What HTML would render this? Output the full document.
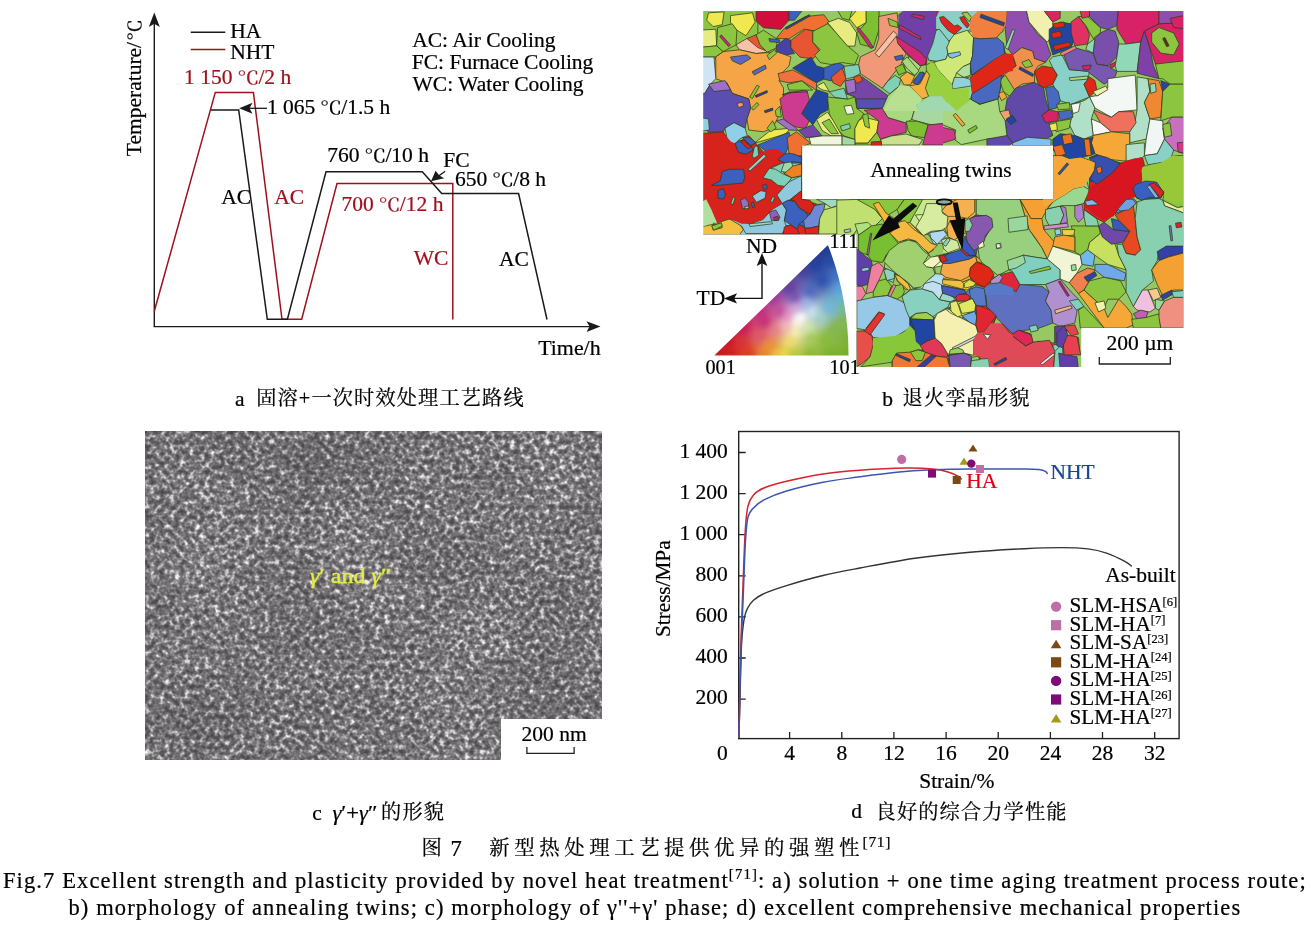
<!DOCTYPE html>
<html lang="zh">
<head>
<meta charset="utf-8">
<title>Fig.7 Excellent strength and plasticity provided by novel heat treatment</title>
<style>
html,body{margin:0;padding:0;background:#fff;}
body{width:1311px;height:934px;overflow:hidden;position:relative;}
svg{display:block;position:absolute;left:0;top:0;}
svg text{font-family:"Liberation Serif","Noto Serif CJK SC",serif;white-space:pre;}
</style>
</head>
<body>
<svg width="1311" height="934" viewBox="0 0 1311 934">
<rect width="1311" height="934" fill="#fff"/>
<g id="panel-a"><path d="M154.3,326.6 V20" stroke="#1a1a1a" stroke-width="1.4" fill="none"/>
<path d="M153.6,326.6 H592" stroke="#1a1a1a" stroke-width="1.4" fill="none"/>
<path d="M154.3,12.5 L159.8,27 L154.3,23.8 L148.8,27 Z" fill="#1a1a1a"/>
<path d="M600.5,326.6 L586.5,321.3 L589.5,326.6 L586.5,331.9 Z" fill="#1a1a1a"/>
<path d="M190.7,32.2 H225.3" stroke="#1a1a1a" stroke-width="1.5"/>
<path d="M190.7,49.6 H225.3" stroke="#a0101c" stroke-width="1.5"/>
<text x="230.2" y="37.6" font-size="21.5" fill="#000" text-anchor="start" stroke="#000" stroke-width="0.22">HA</text>
<text x="230.2" y="58.8" font-size="21.5" fill="#000" text-anchor="start" stroke="#000" stroke-width="0.22">NHT</text>
<path d="M154.3,311.3 L215.3,92.4 H253.4 L282,319.3 H301.7 L337,183.5 H452.8 V319.5" stroke="#a0101c" stroke-width="1.5" fill="none" stroke-linejoin="miter"/>
<path d="M210.8,110 H238.7 L267.3,319.3 H287.4 L326,171.7 H422.3 L441.7,193.5 H518.6 L547,319.5" stroke="#1a1a1a" stroke-width="1.5" fill="none" stroke-linejoin="miter"/>
<text x="184.0" y="84" font-size="21.5" fill="#a0101c" stroke="#a0101c" stroke-width="0.22">1 150 </text><text transform="translate(237.2,84) scale(1.3,1)" font-size="17.0" fill="#a0101c" stroke="#a0101c" stroke-width="0.22">℃</text><text x="258.4" y="84" font-size="21.5" fill="#a0101c" stroke="#a0101c" stroke-width="0.22">/2 h</text>
<text x="266.9" y="114" font-size="21.5" fill="#000" stroke="#000" stroke-width="0.22">1 065 </text><text transform="translate(320.0,114) scale(1.3,1)" font-size="17.0" fill="#000" stroke="#000" stroke-width="0.22">℃</text><text x="341.2" y="114" font-size="21.5" fill="#000" stroke="#000" stroke-width="0.22">/1.5 h</text>
<path d="M248,108.3 H267" stroke="#1a1a1a" stroke-width="1.3"/>
<path d="M239.2,108.3 L252.5,102.8 L249.5,108.3 L252.5,113.8 Z" fill="#1a1a1a"/>
<text x="412.2" y="47.2" font-size="21.5" fill="#000" text-anchor="start" stroke="#000" stroke-width="0.22">AC: Air Cooling</text>
<text x="411.8" y="69.2" font-size="21.5" fill="#000" text-anchor="start" stroke="#000" stroke-width="0.22">FC: Furnace Cooling</text>
<text x="412.5" y="90.6" font-size="21.5" fill="#000" text-anchor="start" stroke="#000" stroke-width="0.22">WC: Water Cooling</text>
<text x="327.2" y="161.5" font-size="21.5" fill="#000" stroke="#000" stroke-width="0.22">760 </text><text transform="translate(364.2,161.5) scale(1.3,1)" font-size="17.0" fill="#000" stroke="#000" stroke-width="0.22">℃</text><text x="385.4" y="161.5" font-size="21.5" fill="#000" stroke="#000" stroke-width="0.22">/10 h</text>
<text x="341.6" y="211" font-size="21.5" fill="#a0101c" stroke="#a0101c" stroke-width="0.22">700 </text><text transform="translate(378.6,211) scale(1.3,1)" font-size="17.0" fill="#a0101c" stroke="#a0101c" stroke-width="0.22">℃</text><text x="399.8" y="211" font-size="21.5" fill="#a0101c" stroke="#a0101c" stroke-width="0.22">/12 h</text>
<text x="455.0" y="185.8" font-size="21.5" fill="#000" stroke="#000" stroke-width="0.22">650 </text><text transform="translate(492.0,185.8) scale(1.3,1)" font-size="17.0" fill="#000" stroke="#000" stroke-width="0.22">℃</text><text x="513.2" y="185.8" font-size="21.5" fill="#000" stroke="#000" stroke-width="0.22">/8 h</text>
<text x="443.2" y="166.6" font-size="21.5" fill="#000" text-anchor="start" stroke="#000" stroke-width="0.22">FC</text>
<path d="M445.2,171.2 L439,175.8" stroke="#1a1a1a" stroke-width="1.3"/>
<path d="M431,181.3 L435.6,170.8 L439.3,175.5 L444.2,178.3 Z" fill="#1a1a1a"/>
<text x="221.2" y="204" font-size="21.5" fill="#000" text-anchor="start" stroke="#000" stroke-width="0.22">AC</text>
<text x="274.2" y="204" font-size="21.5" fill="#a0101c" text-anchor="start" stroke="#a0101c" stroke-width="0.22">AC</text>
<text x="413.8" y="264.6" font-size="21.5" fill="#a0101c" text-anchor="start" stroke="#a0101c" stroke-width="0.22">WC</text>
<text x="499.0" y="265.8" font-size="21.5" fill="#000" text-anchor="start" stroke="#000" stroke-width="0.22">AC</text>
<text x="538.2" y="354.7" font-size="21.9" fill="#000" text-anchor="start" stroke="#000" stroke-width="0.22">Time/h</text>
<g transform="translate(140.6,155.4) rotate(-90)"><text x="-0.8" y="0" font-size="21.5" fill="#000" stroke="#000" stroke-width="0.22">Temperature/</text><text transform="translate(114.4,0) scale(1.3,1)" font-size="17.0" fill="#000" stroke="#000" stroke-width="0.22">℃</text></g>
<text x="235.0" y="405.6" font-size="21.5" fill="#000" text-anchor="start" stroke="#000" stroke-width="0.22">a</text>
<text x="256.2" y="404.6" font-size="20.2" letter-spacing="1.15" fill="#000" stroke="#000" stroke-width="0.22">固溶+一次时效处理工艺路线</text></g>
<g id="panel-b"><clipPath id="ebsdclip"><rect x="703.2" y="11" width="480.6" height="355.9"/></clipPath>
<filter id="ebsdsoft" x="-2%" y="-2%" width="104%" height="104%"><feGaussianBlur stdDeviation="0.45"/></filter>
<g clip-path="url(#ebsdclip)"><g filter="url(#ebsdsoft)">
<rect x="703" y="11" width="481" height="356" fill="#96c864"/>
<clipPath id="c_ebsd_A"><rect x="703" y="11" width="240.00" height="170.98"/></clipPath>
<g clip-path="url(#c_ebsd_A)" stroke="#2f3c1a" stroke-width="0.75" stroke-linejoin="round">
<polygon points="697.5,5.5 757.9,5.5 757.9,58.6 697.5,58.6" fill="#8cc63f"/>
<polygon points="708.5,12.8 724.1,11.9 722.2,24.7 713.1,26.6 706.7,20.2" fill="#f0e850"/>
<polygon points="730.5,15.6 752.4,12.8 755.2,22.0 746.0,35.7 736.9,30.2 730.5,22.9" fill="#f0e850"/>
<polygon points="697.5,30.2 715.8,29.3 716.7,45.8 697.5,47.6" fill="#e8ec80"/>
<polygon points="714.0,46.7 719.5,44.9 720.4,47.6 714.9,50.4" fill="#d02878"/>
<polygon points="756.1,5.5 789.0,5.5 789.0,20.2 780.8,29.3 763.4,27.8 756.1,21.1" fill="#d0103c"/>
<polygon points="789.0,5.5 806.4,5.5 794.5,20.2 789.0,20.2" fill="#3a60c0"/>
<polygon points="736.0,44.9 746.9,38.5 757.9,36.6 759.8,44.9 767.1,52.2 756.1,53.5 739.6,49.8" fill="#f8c0a8"/>
<polygon points="746.9,38.5 756.1,34.8 761.6,44.0 765.2,50.4 757.9,47.6" fill="#e85530"/>
<polygon points="756.1,34.8 763.4,30.2 776.2,38.5 777.1,47.6 767.1,52.2 760.1,44.9" fill="#8cc63f"/>
<polygon points="768.9,38.5 779.9,39.9 779.5,42.5 769.8,41.8" fill="#3a60c0"/>
<polygon points="776.2,38.5 783.5,29.3 805.5,16.5 823.8,14.7 829.3,22.0 820.2,31.5 803.7,29.3 789.0,38.8" fill="#f07030"/>
<polygon points="785.4,27.5 809.2,14.7 810.1,16.1 786.3,29.3" fill="#2444a4"/>
<polygon points="776.2,45.8 785.4,38.5 790.9,40.3 790.9,47.6 794.5,53.5 783.5,55.3 776.2,51.6" fill="#4a40a8"/>
<polygon points="790.9,40.3 805.5,29.3 812.8,31.1 812.8,42.1 820.2,51.6 812.8,59.0 800.0,57.1 790.9,47.6" fill="#e85530"/>
<polygon points="715.8,56.8 723.1,51.6 739.6,49.8 756.1,53.5 767.1,52.7 776.2,51.6 790.9,56.8 789.0,65.9 783.5,71.4 779.0,80.6 783.5,87.9 783.5,97.0 779.9,113.5 772.6,128.2 763.4,131.8 748.8,130.0 746.9,119.0 750.6,108.0 748.8,98.9 732.3,93.4 726.8,82.8 715.8,78.7" fill="#f5a545"/>
<polygon points="730.5,57.1 746.9,54.9 751.0,58.2 740.5,64.5 732.3,60.8" fill="#5a68c4"/>
<polygon points="752.1,71.8 765.2,65.0 766.3,68.5 754.3,75.1" fill="#5a68c4"/>
<polygon points="767.1,55.3 774.8,49.4 776.6,53.1 769.3,59.7" fill="#8cc63f"/>
<polygon points="749.7,97.0 757.0,85.1 759.4,86.4 752.4,98.5" fill="#8cc63f"/>
<polygon points="751.5,108.0 757.0,102.5 758.8,104.7 753.3,110.2" fill="#8cc63f"/>
<polygon points="755.2,95.6 767.1,90.6 767.4,92.5 756.1,97.4" fill="#2444a4"/>
<polygon points="764.3,110.8 772.6,108.0 772.9,110.2 765.2,112.8" fill="#2444a4"/>
<polygon points="775.3,110.8 779.9,106.2 781.4,117.2 776.2,116.3" fill="#8cc63f"/>
<polygon points="697.5,56.8 714.0,56.8 715.8,78.7 710.3,84.2 704.8,93.4 697.5,93.4" fill="#cfe5f5"/>
<polygon points="704.8,93.4 710.3,84.2 726.8,82.8 732.3,93.4 748.8,98.9 750.6,108.0 746.9,119.0 745.1,128.2 734.1,122.7 725.0,128.2 723.1,132.2 708.5,132.2 697.5,120.8 697.5,97.0" fill="#5a50b0"/>
<polygon points="708.5,84.2 725.0,80.6 730.5,89.7 714.0,91.5" fill="#a070c8"/>
<polygon points="736.9,103.4 742.4,102.2 743.6,105.8 738.7,107.7" fill="#f09878"/>
<polygon points="697.5,117.2 708.5,119.0 709.4,130.0 697.5,131.8" fill="#8fd0e8"/>
<polygon points="697.5,133.7 723.1,131.8 732.3,146.5 748.8,135.5 763.4,152.0 783.5,150.1 783.5,162.9 765.2,172.1 745.1,172.1 745.1,187.5 697.5,187.5" fill="#d8201c"/>
<polygon points="725.0,128.2 734.1,122.7 745.1,128.2 747.3,135.5 739.6,139.1 732.3,146.5 726.8,137.3" fill="#8fd0e8"/>
<polygon points="734.1,143.7 741.4,141.9 747.9,150.1 742.4,155.6 736.9,152.0" fill="#3a60c0"/>
<polygon points="742.4,137.3 749.7,137.3 756.1,142.8 750.6,145.6" fill="#3a60c0"/>
<polygon points="721.3,173.9 728.6,169.9 745.1,169.9 745.1,187.5 721.3,187.5" fill="#3a60c0"/>
<polygon points="754.3,143.2 771.1,130.0 790.9,128.2 785.4,134.0 767.1,139.5" fill="#f0e850"/>
<polygon points="767.1,128.2 772.6,120.8 776.2,128.2 770.7,131.8" fill="#8cc63f"/>
<polygon points="757.9,145.0 789.0,132.2 791.2,139.1 785.4,154.2 767.1,152.3" fill="#3a60c0"/>
<polygon points="752.4,150.1 757.9,146.5 759.8,155.6 754.3,157.5" fill="#80d0b8"/>
<polygon points="787.2,137.7 796.4,131.8 811.0,143.2 801.9,146.8 801.9,157.5 789.0,154.2" fill="#f07030"/>
<polygon points="752.1,168.8 765.2,154.2 767.4,157.5 756.5,172.5" fill="#80d0b8"/>
<polygon points="746.9,172.1 765.2,172.1 767.1,187.5 746.9,187.5" fill="#d8201c"/>
<polygon points="765.2,170.6 781.7,163.3 801.9,161.5 801.9,187.5 765.2,187.5" fill="#80d0b8"/>
<polygon points="783.5,172.1 801.9,162.9 801.9,175.8 789.0,177.6" fill="#f07030"/>
<polygon points="783.5,157.5 801.9,155.6 801.9,162.9 785.4,163.3" fill="#3a60c0"/>
<polygon points="776.2,120.8 783.5,119.0 794.5,126.7 798.2,130.4 789.0,130.0" fill="#a070c8"/>
<polygon points="779.9,98.9 789.0,91.9 807.3,91.5 809.5,100.7 801.9,113.5 805.5,117.2 809.2,120.8 805.5,128.5 794.5,126.7 783.5,119.0" fill="#cc3a90"/>
<polygon points="782.1,94.8 805.5,89.7 807.7,91.9 789.0,92.6" fill="#9050b0"/>
<polygon points="801.9,113.5 809.2,100.7 816.5,89.7 827.9,93.4 827.9,109.9 820.2,113.9 812.8,124.9 809.2,120.8" fill="#2444a4"/>
<polygon points="798.2,130.4 812.8,124.9 822.0,135.9 805.5,137.7" fill="#7444a8"/>
<polygon points="792.7,68.1 811.0,57.1 816.5,65.9 823.8,68.1 823.8,79.1 816.5,82.8" fill="#2444a4"/>
<polygon points="823.8,68.1 838.5,62.6 844.3,65.9 840.3,75.1 831.1,80.9 823.8,79.1" fill="#3a60c0"/>
<polygon points="831.1,77.3 842.1,68.1 846.2,78.7 840.3,86.4 833.0,82.8" fill="#e85530"/>
<polygon points="778.1,73.6 792.7,69.9 816.5,82.8 816.5,90.1 801.9,80.9 789.0,82.8 779.9,80.9" fill="#f07040"/>
<polygon points="787.2,84.6 801.9,80.9 812.8,90.1 789.0,90.1" fill="#8cc63f"/>
<polygon points="816.5,86.1 823.8,82.4 829.3,91.5 822.0,89.7" fill="#e8ec80"/>
<polygon points="812.8,31.5 827.5,23.8 836.6,33.0 847.6,45.8 858.6,55.3 854.9,64.5 842.1,62.6 831.1,64.5 820.2,62.6 814.7,55.3 820.2,49.8 812.8,42.1" fill="#8cc63f"/>
<polygon points="827.5,22.4 838.5,18.3 849.5,22.4 856.8,33.0 854.9,46.1 847.6,46.1 836.6,33.3" fill="#e8ec80"/>
<polygon points="834.8,5.5 853.1,5.5 849.5,20.2 842.1,18.3" fill="#8cc63f"/>
<polygon points="849.5,18.7 860.8,5.5 866.3,5.5 866.3,22.4 856.8,27.8" fill="#f0e850"/>
<polygon points="865.9,5.5 879.1,5.5 879.1,29.3 873.3,47.6 860.4,44.3 856.8,33.0 866.3,22.4" fill="#7dc030"/>
<polygon points="858.6,27.5 867.8,38.5 873.3,47.6 870.5,48.5 856.8,29.3" fill="#d02878"/>
<polygon points="860.4,56.8 875.1,49.8 878.7,38.5 878.7,16.5 897.1,12.8 898.9,29.3 898.9,44.0 906.2,53.5 900.7,64.5 887.9,80.9 882.4,88.3 860.4,73.6 858.6,64.5" fill="#f09878"/>
<polygon points="875.1,53.5 893.4,31.1 897.4,34.8 879.1,57.1" fill="#f8c0a8"/>
<polygon points="887.9,18.3 897.1,22.0 898.0,27.5 889.7,25.6" fill="#8cc63f"/>
<polygon points="894.3,56.8 902.5,54.9 903.5,59.0 896.1,60.4" fill="#3a60c0"/>
<polygon points="898.9,14.7 911.7,5.5 935.5,5.5 935.5,29.3 928.2,49.8 919.0,44.3 900.7,31.5" fill="#7444a8"/>
<polygon points="913.5,14.7 928.5,20.2 926.7,23.8 912.1,18.3" fill="#d02878"/>
<polygon points="900.7,29.3 922.7,38.5 920.8,42.5 899.8,33.9" fill="#d02878"/>
<polygon points="897.1,36.6 928.2,49.8 926.3,64.5 917.2,66.3 906.2,53.5 898.9,44.3" fill="#d02878"/>
<polygon points="902.5,44.0 926.3,54.9 925.4,57.7 901.6,46.7" fill="#7444a8"/>
<polygon points="928.2,49.8 935.5,29.3 948.5,33.0 948.5,60.8 930.0,60.8" fill="#80d0b8"/>
<polygon points="935.5,5.5 948.5,5.5 948.5,18.3 936.4,16.5" fill="#d02878"/>
<polygon points="935.5,18.3 948.5,20.2 948.5,33.0 935.5,29.3" fill="#80d0b8"/>
<polygon points="902.5,60.8 909.9,56.8 920.8,66.3 915.4,75.4 906.2,71.8" fill="#a8d880"/>
<polygon points="895.2,67.8 902.5,64.1 906.2,71.8 898.9,75.1" fill="#7dc030"/>
<polygon points="926.3,64.5 933.7,62.3 948.5,71.4 948.5,87.9 931.8,84.6 926.3,75.4" fill="#8cc63f"/>
<polygon points="933.7,62.3 948.5,62.3 948.5,71.4" fill="#e8ec80"/>
<polygon points="900.7,77.3 909.9,73.2 915.4,80.9 922.7,73.2 930.0,79.1 926.3,84.6 928.2,95.6 920.8,99.2 909.9,86.4 904.4,84.6" fill="#f5b040"/>
<polygon points="913.5,80.9 922.7,71.8 926.7,75.4 917.6,84.6" fill="#3a60c0"/>
<polygon points="882.4,88.3 887.9,80.9 895.2,75.4 900.7,79.1 898.9,86.4 889.7,93.7" fill="#80d0b8"/>
<polygon points="845.8,80.9 854.9,79.1 862.3,76.9 887.9,95.6 882.4,108.4 856.8,108.4 854.9,97.0 845.8,93.7" fill="#7444a8"/>
<polygon points="844.9,80.9 854.9,79.1 855.9,91.5 847.6,93.7" fill="#a070c8"/>
<polygon points="855.9,98.9 886.1,98.9 884.2,108.4 856.8,108.4" fill="#5a50b0"/>
<polygon points="853.1,77.3 860.4,75.1 862.6,80.6 856.8,83.5" fill="#f05020"/>
<polygon points="844.0,66.3 858.6,64.5 860.4,73.6 853.1,77.3 845.8,79.1" fill="#80d0b8"/>
<polygon points="829.3,91.9 844.0,88.3 845.8,93.7 847.6,99.2 834.8,97.4" fill="#80d0b8"/>
<polygon points="827.5,97.0 847.6,99.2 854.9,97.0 856.8,108.4 864.1,113.9 858.6,120.8 854.9,128.5 854.9,139.5 844.0,135.9 836.6,128.5 829.3,113.9" fill="#8cc63f"/>
<polygon points="844.0,106.2 851.3,105.3 854.0,113.5 846.7,114.4" fill="#f0f5e0"/>
<polygon points="840.3,126.3 849.5,123.6 850.4,128.2 842.1,130.9" fill="#80d0b8"/>
<polygon points="816.5,119.4 827.5,112.1 833.3,120.8 842.1,135.9 831.1,135.9 822.0,130.4" fill="#e8ec80"/>
<polygon points="822.0,122.7 829.3,119.0 838.5,133.7 831.1,133.7" fill="#8cc63f"/>
<polygon points="854.9,128.5 858.6,120.8 864.1,117.2 878.7,120.8 876.9,132.2 867.8,143.2 854.9,143.2" fill="#f0e850"/>
<polygon points="862.3,115.3 867.8,113.5 869.6,128.2 865.0,126.3" fill="#8cc63f"/>
<polygon points="864.1,110.2 882.4,108.4 887.9,117.5 906.2,123.0 906.2,132.2 891.6,135.9 878.7,139.5 876.9,132.2 878.7,120.8" fill="#cc3a90"/>
<polygon points="882.4,108.4 887.9,95.6 898.9,86.4 909.9,86.4 920.8,99.2 915.4,106.6 911.7,119.4 906.2,123.0 887.9,117.5" fill="#a8d880"/>
<polygon points="911.7,119.4 915.4,106.6 928.2,100.7 948.5,102.5 948.5,123.0 931.8,124.9 917.2,121.2" fill="#a6d8a0"/>
<polygon points="930.0,93.7 948.5,91.5 948.5,102.5 928.2,100.7" fill="#8fd0e8"/>
<polygon points="906.2,121.2 917.2,121.2 928.2,124.9 924.5,137.7 911.7,135.9 908.0,130.4" fill="#7dc030"/>
<polygon points="924.5,137.7 928.2,124.9 948.5,123.0 948.5,145.0 922.7,145.0" fill="#cc3a90"/>
<polygon points="880.6,139.5 891.6,135.9 906.2,134.0 911.7,135.9 922.7,139.5 919.0,145.0 880.6,145.0" fill="#c8e090"/>
<polygon points="867.8,143.2 876.9,132.2 880.6,139.5 880.6,145.0 854.9,145.0 854.9,143.2" fill="#8cc63f"/>
<polygon points="871.4,141.9 881.5,141.3 881.5,145.6 871.4,145.6" fill="#d8201c"/>
<polygon points="809.2,137.7 822.0,135.9 842.1,135.9 842.1,145.0 811.0,145.0" fill="#f0f5e0"/>
<polygon points="842.1,135.9 854.9,139.5 854.9,145.0 842.1,145.0" fill="#a6d8a0"/>
<polygon points="697.5,47.6 716.7,45.8 723.1,51.6 715.8,56.8 697.5,56.8" fill="#8cc63f"/>
<polygon points="717.6,27.5 732.3,23.8 736.9,30.2 736.0,44.9 723.1,51.6 716.7,45.8" fill="#8cc63f"/>
<polygon points="721.3,34.8 730.5,44.9 728.6,46.7 719.8,36.6" fill="#d02878"/>
<polygon points="928.2,84.2 948.5,87.9 948.5,91.5 930.0,93.7 928.2,95.6" fill="#8cc63f"/>
</g>
<clipPath id="c_ebsd_B"><rect x="943" y="11" width="240.00" height="170.98"/></clipPath>
<g clip-path="url(#c_ebsd_B)" stroke="#2f3c1a" stroke-width="0.75" stroke-linejoin="round">
<polygon points="937.5,5.5 970.5,5.5 970.5,29.3 961.3,34.8 948.5,40.3 937.5,42.1" fill="#88d0c8"/>
<polygon points="937.5,18.3 954.0,27.5 952.2,31.1 937.5,23.8" fill="#e02818"/>
<polygon points="959.5,18.3 968.6,25.6 966.8,28.4 958.6,22.0" fill="#e02818"/>
<polygon points="946.7,42.1 961.3,34.8 972.3,31.1 974.1,40.3 970.5,71.4 952.2,87.9 937.5,78.7 937.5,56.8 948.5,51.3" fill="#c8e070"/>
<polygon points="946.7,53.1 960.4,52.2 959.5,56.8 947.6,59.0" fill="#80c0f0"/>
<polygon points="970.5,18.3 979.6,14.7 1007.1,5.5 1008.9,20.2 1003.4,29.3 996.1,38.5 976.0,38.5 970.5,29.3" fill="#f08040"/>
<polygon points="977.8,12.8 1005.2,23.8 1003.4,27.5 976.9,16.5" fill="#2444a4"/>
<polygon points="992.4,33.0 1001.6,28.4 1003.4,31.1 995.2,36.6" fill="#8cc63f"/>
<polygon points="1007.1,5.5 1025.4,5.5 1029.0,22.0 1038.2,34.8 1045.5,40.3 1051.0,54.9 1045.5,62.3 1034.5,58.6 1032.7,51.3 1021.7,47.6 1012.6,54.9 1007.1,47.6 1005.2,29.3" fill="#9050b0"/>
<polygon points="1005.2,47.6 1012.6,29.3 1014.8,30.2 1008.0,49.4" fill="#90d8b8"/>
<polygon points="1025.4,5.5 1040.0,5.5 1052.8,22.0 1052.8,34.8 1047.3,42.1 1040.0,34.8 1029.0,22.0" fill="#f0f0b0"/>
<polygon points="1040.0,5.5 1060.2,5.5 1060.2,18.3 1052.8,22.0" fill="#e02060"/>
<polygon points="974.1,40.3 996.1,38.5 1003.4,44.0 1005.2,53.1 996.1,58.6 972.3,75.1 970.5,71.4" fill="#4868c0"/>
<polygon points="970.5,76.9 997.9,58.6 1005.2,53.1 1012.6,56.8 1016.2,65.9 1012.6,69.6 1003.4,73.2 972.3,93.4" fill="#e02818"/>
<polygon points="972.3,93.4 1003.4,73.2 1001.6,84.2 997.9,98.9 979.6,104.4 972.3,100.7" fill="#4868c0"/>
<polygon points="1012.6,54.9 1021.7,47.6 1032.7,51.3 1034.5,58.6 1045.5,62.3 1038.2,65.9 1034.5,71.4 1034.5,82.4 1021.7,84.2 1014.4,89.7 1005.2,84.2 1003.4,75.1 1016.2,65.9" fill="#f09050"/>
<polygon points="1021.7,62.3 1029.0,59.5 1032.7,65.9 1025.4,67.8" fill="#8cc63f"/>
<polygon points="1019.9,66.8 1033.6,74.2 1032.7,76.5 1019.0,69.2" fill="#2444a4"/>
<polygon points="1034.5,71.4 1041.9,65.9 1052.8,67.8 1057.4,75.1 1052.8,84.2 1043.7,87.9 1038.2,84.2" fill="#e02818"/>
<polygon points="999.8,80.6 1005.2,75.1 1014.4,89.7 1010.7,97.0 1003.4,91.5" fill="#8cc63f"/>
<polygon points="997.9,93.4 1003.4,91.5 1007.1,97.0 1001.6,100.7" fill="#f5a838"/>
<polygon points="1007.1,98.9 1016.2,87.9 1034.5,82.4 1043.7,87.9 1045.5,98.9 1049.2,109.9 1041.9,115.3 1049.2,122.7 1052.8,135.5 1045.5,139.1 1027.2,137.3 1012.6,142.8 1007.1,137.3 1005.2,120.8 1010.7,113.5 1005.2,109.9" fill="#6048a8"/>
<polygon points="999.8,111.7 1008.9,109.9 1010.7,117.2 1005.2,120.8 999.8,119.0" fill="#f5a070"/>
<polygon points="1006.2,119.0 1012.6,115.3 1016.2,120.8 1010.7,124.5" fill="#2444a4"/>
<polygon points="937.5,102.5 970.5,98.9 979.6,104.4 997.9,98.9 999.8,111.7 1005.2,120.8 1007.1,137.3 986.9,139.1 961.3,144.6 954.0,139.1 955.8,130.0 937.5,122.7" fill="#a8d880"/>
<polygon points="953.1,115.3 955.8,113.5 965.0,124.5 962.2,126.3" fill="#f5a838"/>
<polygon points="967.7,130.0 976.0,125.4 977.4,128.2 969.5,133.3" fill="#7dc030"/>
<polygon points="937.5,126.3 954.0,130.0 955.8,139.1 937.5,144.6" fill="#d03888"/>
<polygon points="986.9,139.1 1007.1,135.5 1012.6,142.8 1008.9,145.6 986.9,145.6" fill="#6048a8"/>
<polygon points="1012.6,142.8 1027.2,137.3 1051.0,139.1 1051.0,145.6 1012.6,145.6" fill="#80c0f0"/>
<polygon points="952.2,80.6 970.5,76.9 972.3,93.4 970.5,98.9 954.0,100.7" fill="#90d8b8"/>
<polygon points="937.5,78.7 952.2,87.9 954.0,100.7 937.5,102.5" fill="#8cc63f"/>
<polygon points="1052.8,56.8 1062.0,54.9 1069.3,69.6 1089.5,71.4 1087.6,80.6 1084.0,84.2 1089.5,97.0 1071.1,104.4 1060.2,100.7 1056.5,91.5 1052.8,84.2 1057.4,75.1 1052.8,67.8 1049.2,60.4" fill="#88d0c8"/>
<polygon points="1069.3,77.8 1087.6,76.0 1088.0,79.1 1070.2,80.6" fill="#a8d880"/>
<polygon points="1045.5,87.9 1052.8,86.1 1058.3,91.5 1060.2,100.7 1056.5,108.0 1049.2,109.9" fill="#4868c0"/>
<polygon points="1049.2,29.3 1060.2,22.0 1071.1,23.8 1074.8,38.5 1071.1,47.6 1052.8,54.9 1049.2,42.1" fill="#2444a4"/>
<polygon points="1051.0,33.0 1060.2,31.1 1062.0,36.6 1052.8,38.5" fill="#e02818"/>
<polygon points="1052.8,45.8 1069.3,42.1 1071.1,45.8 1054.7,50.4" fill="#e02818"/>
<polygon points="1052.8,23.8 1063.8,22.0 1064.7,26.6 1054.7,28.4" fill="#e02818"/>
<polygon points="1071.1,22.0 1078.5,16.5 1085.8,25.6 1089.5,34.8 1087.6,44.0 1074.8,45.8 1071.1,33.0" fill="#e03060"/>
<polygon points="1078.5,16.5 1087.6,16.5 1100.4,27.5 1100.4,33.0 1093.1,38.5 1085.8,25.6" fill="#8cc63f"/>
<polygon points="1078.5,5.5 1089.5,5.5 1089.5,16.5 1082.1,18.3" fill="#e03060"/>
<polygon points="1089.5,5.5 1118.7,5.5 1116.9,25.6 1107.8,29.3 1100.4,27.5 1089.5,16.5" fill="#7a50ac"/>
<polygon points="1118.7,5.5 1159.0,5.5 1159.0,23.8 1144.4,31.1 1140.7,42.1 1126.1,44.0 1116.9,29.3 1116.9,25.6" fill="#d82068"/>
<polygon points="1094.9,38.5 1100.4,33.0 1107.8,29.3 1115.1,31.1 1118.7,42.1 1116.9,56.8 1107.8,65.9 1096.8,64.1 1093.1,53.1" fill="#7a50ac"/>
<polygon points="1063.8,54.9 1074.8,47.6 1093.1,53.1 1096.8,64.1 1107.8,65.9 1116.9,71.4 1115.1,76.9 1104.1,84.2 1096.8,78.7 1087.6,71.4 1069.3,69.6" fill="#7858b0"/>
<polygon points="1060.2,53.1 1074.8,45.8 1076.6,48.5 1062.0,55.9" fill="#f08090"/>
<polygon points="1082.1,65.9 1091.3,65.0 1089.5,69.6 1084.0,69.9" fill="#d82068"/>
<polygon points="1109.6,65.0 1118.7,60.1 1120.6,62.6 1111.4,68.1" fill="#d82068"/>
<polygon points="1087.6,44.0 1094.9,38.5 1093.1,53.1 1085.8,49.4" fill="#90d8b8"/>
<polygon points="1116.9,56.8 1118.7,44.0 1126.1,44.0 1140.7,42.1 1137.1,71.4 1116.9,71.4 1115.1,65.9" fill="#90d8b8"/>
<polygon points="1140.7,42.1 1144.4,31.1 1149.9,47.6 1153.5,65.9 1159.0,78.7 1137.1,73.2" fill="#8040a8"/>
<polygon points="1144.4,31.1 1159.0,23.8 1188.5,22.0 1188.5,62.3 1155.4,64.1 1149.9,47.6" fill="#d82068"/>
<polygon points="1151.7,33.0 1159.0,27.5 1173.7,33.0 1179.2,44.0 1173.7,54.9 1160.8,53.1 1151.7,42.1" fill="#8cc63f"/>
<polygon points="1162.7,38.5 1164.9,37.5 1169.1,45.8 1166.7,46.7" fill="#5a3010"/>
<polygon points="1159.0,5.5 1188.5,5.5 1188.5,22.0 1159.0,23.8" fill="#9050b0"/>
<polygon points="1170.0,18.3 1188.5,14.7 1188.5,29.3 1173.7,27.5" fill="#d82068"/>
<polygon points="1155.4,64.1 1188.5,60.4 1188.5,84.2 1170.0,84.2 1162.7,78.7 1159.0,78.7" fill="#8cc63f"/>
<polygon points="1107.8,78.7 1135.2,75.1 1137.1,109.9 1118.7,111.7 1111.4,117.2 1094.9,108.0 1089.5,97.0 1098.6,95.2 1107.8,87.9" fill="#f4f8f4"/>
<polygon points="1084.0,84.2 1089.5,76.9 1094.9,80.6 1096.8,89.7 1089.5,97.0" fill="#e02818"/>
<polygon points="1093.1,91.5 1105.9,86.1 1107.8,89.7 1096.8,96.1" fill="#f0f0b0"/>
<polygon points="1137.1,76.9 1148.0,78.7 1149.9,91.5 1144.4,102.5 1149.9,119.0 1146.2,139.1 1129.7,142.8 1129.7,131.8 1135.2,120.8 1137.1,109.9" fill="#b0e0c8"/>
<polygon points="1148.0,78.7 1159.0,80.6 1162.7,91.5 1160.8,117.2 1149.9,119.0 1144.4,102.5 1149.9,91.5" fill="#f08830"/>
<polygon points="1149.9,84.2 1155.4,83.3 1156.3,91.5 1150.8,93.4" fill="#90d8b8"/>
<polygon points="1160.8,80.6 1170.0,84.2 1166.3,97.0 1162.7,91.5" fill="#3040a0"/>
<polygon points="1162.7,91.5 1170.0,84.2 1188.5,84.2 1188.5,117.2 1171.8,117.2 1160.8,120.8" fill="#8cc63f"/>
<polygon points="1149.9,119.0 1162.7,120.8 1164.5,139.1 1157.2,153.8 1144.4,155.6 1146.2,139.1" fill="#f0f5f5"/>
<polygon points="1171.8,117.2 1188.5,117.2 1188.5,155.6 1173.7,150.1 1164.5,139.1 1162.7,128.2" fill="#c870c0"/>
<polygon points="1162.7,124.5 1170.0,122.7 1171.8,135.5 1164.5,137.3" fill="#8cc63f"/>
<polygon points="1177.3,142.8 1188.5,141.9 1188.5,153.8 1178.2,152.0" fill="#d03888"/>
<polygon points="1093.1,109.9 1111.4,117.2 1118.7,111.7 1133.4,111.7 1136.1,122.7 1129.7,131.8 1111.4,131.8 1100.4,122.7" fill="#f07060"/>
<polygon points="1091.3,119.0 1100.4,122.7 1111.4,131.8 1093.1,135.5" fill="#f8f8f8"/>
<polygon points="1071.1,104.4 1084.0,100.7 1089.5,97.0 1094.9,108.0 1091.3,119.0 1093.1,135.5 1084.0,139.1 1074.8,135.5 1069.3,124.5 1073.0,113.5" fill="#b0e0c8"/>
<polygon points="1071.1,104.4 1080.3,102.5 1078.5,111.7 1073.0,113.5" fill="#f4f8f4"/>
<polygon points="1058.3,111.7 1071.1,109.9 1073.0,117.2 1060.2,120.8" fill="#4868c0"/>
<polygon points="1041.9,115.3 1049.2,109.9 1058.3,111.7 1058.3,120.8 1045.5,122.7" fill="#d82068"/>
<polygon points="1049.2,122.7 1060.2,120.8 1071.1,119.0 1069.3,128.2 1056.5,131.8" fill="#8cc63f"/>
<polygon points="1049.2,124.5 1056.5,122.7 1057.4,130.0 1051.0,130.9" fill="#f0e850"/>
<polygon points="1056.5,104.4 1069.3,102.5 1070.2,108.9 1058.3,109.9" fill="#8cc63f"/>
<polygon points="1093.1,135.5 1111.4,131.8 1129.7,133.7 1129.7,142.8 1126.1,161.1 1107.8,159.3 1094.9,153.8 1091.3,142.8" fill="#f5a838"/>
<polygon points="1052.8,139.1 1060.2,133.7 1074.8,135.5 1084.0,139.1 1093.1,137.3 1091.3,142.8 1094.9,153.8 1082.1,157.5 1071.1,159.3 1062.0,155.6 1052.8,150.1" fill="#2444a4"/>
<polygon points="1052.8,146.5 1062.0,144.6 1065.7,153.8 1056.5,157.5" fill="#f07020"/>
<polygon points="1062.0,135.5 1071.1,133.7 1073.0,142.8 1063.8,144.6" fill="#f07020"/>
<polygon points="1084.0,139.1 1089.5,139.1 1091.3,155.6 1085.8,155.6" fill="#f07020"/>
<polygon points="1052.8,155.6 1062.0,155.6 1071.1,159.3 1082.1,157.5 1096.8,162.9 1089.5,175.8 1082.1,187.5 1052.8,187.5" fill="#f5a838"/>
<polygon points="1056.5,175.8 1067.5,162.9 1069.3,164.8 1059.2,178.0" fill="#2444a4"/>
<polygon points="1089.5,157.5 1096.8,154.7 1107.8,159.3 1120.6,162.9 1115.1,173.9 1104.1,187.5 1089.5,187.5 1089.5,175.8 1096.8,162.9" fill="#2444a4"/>
<polygon points="1096.8,168.4 1101.4,166.6 1102.3,173.0 1097.7,174.3" fill="#f07020"/>
<polygon points="1104.1,187.5 1115.1,173.9 1120.6,162.9 1142.5,157.5 1144.4,164.8 1140.7,187.5" fill="#d8182c"/>
<polygon points="1126.1,144.6 1144.4,142.8 1144.4,155.6 1142.5,157.5 1126.1,161.1" fill="#b0e0c8"/>
<polygon points="1144.4,155.6 1157.2,153.8 1164.5,139.1 1173.7,150.1 1170.0,161.1 1148.0,164.8" fill="#88d0c8"/>
<polygon points="1142.5,166.6 1170.0,161.1 1173.7,155.6 1188.5,155.6 1188.5,187.5 1140.7,187.5" fill="#8cc63f"/>
</g>
<clipPath id="c_ebsd_C"><rect x="703" y="182" width="240.00" height="170.98"/></clipPath>
<g clip-path="url(#c_ebsd_C)" stroke="#2f3c1a" stroke-width="0.75" stroke-linejoin="round">
<polygon points="697.5,176.5 801.9,176.5 801.9,234.7 697.5,234.7" fill="#98c8e8"/>
<polygon points="697.5,176.5 801.9,176.5 801.9,199.4 790.9,202.1 781.7,198.5 772.6,209.5 763.4,218.6 748.8,222.3 739.6,224.1 730.5,218.6 719.5,222.3 710.3,215.0 697.5,200.3" fill="#d8201c"/>
<polygon points="776.2,194.8 790.9,185.7 801.9,183.8 801.9,193.0 785.4,202.1" fill="#98c8e8"/>
<polygon points="697.5,225.9 719.5,222.3 730.5,218.6 739.6,224.1 743.3,229.6 739.6,234.7 697.5,234.7" fill="#f5c040"/>
<polygon points="712.2,225.0 721.3,223.2 722.2,227.8 713.1,230.0" fill="#8cc63f"/>
<polygon points="754.3,193.0 765.2,189.3 768.9,196.6 761.6,202.1 754.3,200.3" fill="#98c8e8"/>
<polygon points="717.6,191.2 725.0,187.5 726.8,196.6 719.5,198.5" fill="#3860c0"/>
<polygon points="737.8,200.3 745.1,198.5 748.8,205.8 741.4,208.5" fill="#9060c0"/>
<polygon points="763.4,183.8 767.1,184.7 766.2,189.3 762.5,188.4" fill="#3860c0"/>
<polygon points="697.5,209.5 710.3,215.0 714.0,224.1 697.5,227.8" fill="#b0e080"/>
<polygon points="781.7,205.8 789.0,200.3 798.2,204.0 805.5,213.1 812.8,205.8 820.2,204.0 822.0,215.0 812.8,224.1 805.5,227.8 798.2,225.9 790.9,218.6 785.4,215.0" fill="#3860c0"/>
<polygon points="805.5,224.1 812.8,207.6 822.0,204.0 822.0,215.0 816.5,224.1" fill="#6080d0"/>
<polygon points="794.5,202.1 801.9,199.4 816.5,204.0 812.8,206.7 805.5,213.1 798.2,204.0" fill="#d8201c"/>
<polygon points="785.4,225.9 798.2,224.1 805.5,227.8 816.5,224.1 820.2,234.7 781.7,234.7" fill="#e02020"/>
<polygon points="768.9,211.3 776.2,211.3 778.1,220.4 770.7,220.4" fill="#9060c0"/>
<polygon points="746.9,223.2 772.6,221.4 773.5,225.0 748.8,226.9" fill="#90d0c8"/>
<polygon points="820.2,207.6 831.1,200.3 856.8,199.4 867.8,200.3 875.1,209.5 882.4,218.6 875.1,225.9 867.8,229.6 858.6,227.8 853.1,234.7 820.2,234.7 822.0,215.0" fill="#c0e070"/>
<polygon points="844.0,230.0 850.4,228.7 850.9,231.8 844.9,232.9" fill="#98c8e8"/>
<polygon points="856.8,199.4 886.1,199.4 904.4,199.4 897.1,209.5 882.4,218.6 875.1,209.5" fill="#8cc63f"/>
<polygon points="873.3,204.0 878.7,202.1 886.1,213.1 902.5,224.1 909.9,222.3 930.0,244.2 933.7,249.7 928.2,253.4 917.2,240.6 900.7,240.6 889.7,233.3 882.4,218.6" fill="#f5b838"/>
<polygon points="858.6,235.1 871.4,225.9 882.4,224.1 891.6,235.1 898.9,244.2 886.1,255.2 882.4,262.5 871.4,260.7 867.8,255.2 858.6,251.6" fill="#78c030"/>
<polygon points="854.9,224.1 867.8,222.3 871.4,225.9 858.6,235.1" fill="#b0e080"/>
<polygon points="866.8,254.3 870.5,233.3 871.8,233.4 868.7,254.9" fill="#a070a0"/>
<polygon points="886.1,255.2 898.9,244.2 909.9,240.6 919.0,242.4 928.2,253.4 933.7,262.5 935.5,273.5 922.7,284.5 913.5,288.2 904.4,279.0 895.2,273.5 884.2,268.0" fill="#98d070"/>
<polygon points="904.4,199.4 948.5,199.4 948.5,227.8 931.8,233.3 922.7,235.1 909.9,222.3 915.4,209.5" fill="#c8e890"/>
<polygon points="915.4,215.0 948.5,213.1 948.5,229.6 928.2,235.1" fill="#e0f0a0"/>
<polygon points="904.4,199.4 922.7,199.4 909.9,222.3 902.5,224.1 897.1,209.5" fill="#8cc63f"/>
<polygon points="928.2,233.3 948.5,229.6 948.5,242.4 933.7,244.2" fill="#b0d8f0"/>
<polygon points="924.5,262.5 937.3,255.2 948.5,258.9 941.0,266.2 928.2,268.0" fill="#f0f0b0"/>
<polygon points="939.2,255.2 948.5,254.3 948.5,262.5 940.1,261.6" fill="#e83030"/>
<polygon points="922.7,284.5 935.5,273.5 948.5,275.4 948.5,291.8 931.8,291.8" fill="#b0d8f0"/>
<polygon points="855.9,247.9 864.1,255.2 871.4,260.7 873.3,269.9 867.8,284.5 860.4,286.3 855.9,284.5" fill="#6040a8"/>
<polygon points="861.4,268.4 868.7,267.1 869.2,270.2 862.3,271.7" fill="#98c8e8"/>
<polygon points="871.4,266.2 878.7,262.5 884.2,268.0 878.7,280.9 873.3,291.8 865.9,293.7 867.8,284.5" fill="#f080a0"/>
<polygon points="855.9,286.3 862.3,286.3 865.9,293.7 860.4,301.0 855.9,301.0" fill="#f080a0"/>
<polygon points="878.7,280.9 886.1,279.0 891.6,286.3 887.9,295.5 873.3,297.3 873.3,291.8" fill="#8cc63f"/>
<polygon points="884.2,268.0 895.2,273.5 893.4,282.7 886.1,279.0" fill="#90d0c8"/>
<polygon points="895.2,273.5 904.4,279.0 909.9,288.2 906.2,290.0 897.1,280.9" fill="#f5b838"/>
<polygon points="856.8,301.0 873.3,297.3 887.9,295.5 897.1,299.2 904.4,302.8 909.9,313.8 909.9,326.6 902.5,335.8 886.1,339.4 873.3,337.6 867.8,330.3 856.8,328.5" fill="#98c8e8"/>
<polygon points="902.5,295.5 913.5,288.2 922.7,290.0 931.8,291.8 948.5,293.7 948.5,315.6 933.7,317.5 909.9,313.8 904.4,302.8" fill="#90d0c8"/>
<polygon points="891.6,286.3 902.5,284.5 904.4,291.8 902.5,295.5 897.1,299.2 887.9,295.5" fill="#8cc63f"/>
<polygon points="887.9,295.5 893.4,284.5 896.1,285.4 890.6,296.4" fill="#f080a0"/>
<polygon points="865.9,328.5 878.7,312.0 884.2,313.8 871.4,332.1" fill="#e83030"/>
<polygon points="855.9,332.1 867.8,330.3 873.3,337.6 875.1,358.5 855.9,358.5" fill="#e85048"/>
<polygon points="909.9,317.5 933.7,317.5 935.5,337.6 922.7,346.8 915.4,337.6 909.9,326.6" fill="#2040a8"/>
<polygon points="915.4,312.9 926.3,312.0 927.3,317.5 916.3,317.8" fill="#8cc63f"/>
<polygon points="873.3,337.6 886.1,339.4 902.5,335.8 909.9,326.6 915.4,337.6 917.2,358.5 875.1,358.5" fill="#8cc63f"/>
<polygon points="933.7,317.5 948.5,315.6 948.5,339.4 935.5,337.6" fill="#f0f0c0"/>
<polygon points="922.7,346.8 935.5,337.6 948.5,339.4 948.5,358.5 920.8,358.5" fill="#e04060"/>
</g>
<clipPath id="c_ebsd_D"><rect x="943" y="182" width="240.00" height="170.98"/></clipPath>
<g clip-path="url(#c_ebsd_D)" stroke="#2f3c1a" stroke-width="0.75" stroke-linejoin="round">
<polygon points="1019.9,199.4 1052.8,199.4 1052.8,176.5 1071.1,176.5 1060.2,196.6 1049.2,205.8 1041.9,218.6 1030.9,218.6" fill="#f5a030"/>
<polygon points="1019.9,199.4 1030.9,218.6 1041.9,218.6 1043.7,229.6 1054.7,242.4 1052.8,255.2 1047.3,258.9 1041.9,247.9 1034.5,236.9 1029.0,229.6" fill="#f5a030"/>
<polygon points="976.0,199.4 1019.9,199.4 1029.0,229.6 1041.9,247.9 1047.3,258.9 1034.5,257.1 1023.5,255.2 1016.2,258.9 1008.9,269.9 997.9,275.4 988.8,268.0 979.6,260.7 977.8,246.1 983.3,240.6 990.6,225.9 988.8,216.8 976.0,215.0" fill="#98d080"/>
<polygon points="1008.0,218.6 1027.2,215.9 1028.1,229.6 1008.9,232.3" fill="#98d8a0"/>
<polygon points="996.1,244.2 1000.7,243.3 1001.2,247.9 996.6,248.8" fill="#f0f5d8"/>
<polygon points="937.5,199.4 976.0,199.4 976.0,215.0 970.5,218.6 965.0,233.3 948.5,236.9 937.5,215.0" fill="#f5b048"/>
<polygon points="970.5,218.6 976.0,215.0 988.8,216.8 992.4,225.9 983.3,240.6 977.8,246.1 970.5,247.9 966.8,235.1" fill="#8050b0"/>
<polygon points="937.5,215.0 948.5,236.9 965.0,233.3 966.8,235.1 970.5,247.9 961.3,251.6 937.5,255.2" fill="#c0e080"/>
<polygon points="937.5,236.9 952.2,238.8 950.3,247.9 937.5,249.7" fill="#80d0c0"/>
<polygon points="937.5,255.2 961.3,251.6 970.5,247.9 977.8,246.1 976.0,255.2 961.3,258.9 946.7,262.5 937.5,264.4" fill="#3858c0"/>
<polygon points="937.5,264.4 961.3,258.9 976.0,255.2 979.6,260.7 970.5,268.0 970.5,279.0 961.3,282.7 937.5,277.2" fill="#f5a838"/>
<polygon points="970.5,268.0 979.6,262.5 988.8,268.0 994.3,277.2 986.9,288.2 974.1,284.5 970.5,279.0" fill="#e03018"/>
<polygon points="937.5,279.0 961.3,282.7 970.5,279.0 976.0,284.5 966.8,290.0 937.5,286.3" fill="#f0e040"/>
<polygon points="937.5,284.5 965.0,290.0 963.1,292.8 937.5,290.0" fill="#3858c0"/>
<polygon points="937.5,290.0 966.8,291.8 970.5,288.2 985.1,288.2 986.9,306.5 976.0,308.3 968.6,299.2 955.8,301.0 937.5,299.2" fill="#5878c8"/>
<polygon points="955.8,295.5 966.8,293.7 970.5,299.2 959.5,301.0" fill="#e02838"/>
<polygon points="937.5,291.8 952.2,295.5 954.0,306.5 937.5,310.1" fill="#80d0c0"/>
<polygon points="950.3,308.3 955.8,301.0 968.6,299.2 976.0,308.3 974.1,313.8 961.3,315.6 954.0,313.8" fill="#e8e860"/>
<polygon points="961.3,315.6 974.1,312.0 977.8,324.8 968.6,323.0" fill="#70a8e8"/>
<polygon points="976.0,308.3 985.1,306.5 996.1,317.5 992.4,326.6 979.6,333.9 976.0,324.8" fill="#e02838"/>
<polygon points="937.5,310.1 950.3,308.3 954.0,313.8 961.3,315.6 968.6,323.0 977.8,324.8 979.6,333.9 976.0,341.3 954.0,346.8 950.3,358.5 937.5,358.5" fill="#f0f0a8"/>
<polygon points="985.1,288.2 994.3,284.5 1019.9,284.5 1041.9,286.3 1049.2,291.8 1045.5,301.0 1051.0,310.1 1052.8,323.0 1038.2,328.5 1025.4,330.3 1012.6,333.9 1003.4,324.8 996.1,317.5 986.9,306.5" fill="#6070c0"/>
<polygon points="997.9,275.4 1012.6,271.7 1019.9,284.5 1016.2,291.8 1007.1,286.3 999.8,282.7" fill="#e02838"/>
<polygon points="990.6,280.9 997.9,275.4 999.8,282.7 994.3,284.5" fill="#b090d0"/>
<polygon points="1008.9,269.9 1016.2,258.9 1023.5,255.2 1034.5,257.1 1047.3,258.9 1060.2,269.9 1060.2,279.0 1045.5,284.5 1023.5,284.5 1019.9,284.5 1012.6,271.7" fill="#80d0c0"/>
<polygon points="1029.0,271.7 1049.2,266.2 1051.0,269.0 1030.9,273.5" fill="#8cc63f"/>
<polygon points="1007.1,260.7 1023.5,255.2 1025.4,262.5 1016.2,268.0 1008.9,269.9" fill="#98d8a0"/>
<polygon points="1045.5,284.5 1060.2,279.0 1071.1,291.8 1078.5,299.2 1076.6,313.8 1074.8,323.0 1060.2,326.6 1052.8,323.0 1051.0,310.1 1045.5,301.0 1049.2,291.8" fill="#b090d0"/>
<polygon points="1060.2,280.9 1069.3,295.5 1067.5,296.4 1058.3,281.8" fill="#c02060"/>
<polygon points="1054.7,310.1 1071.1,305.6 1072.1,308.3 1055.6,313.8" fill="#f5b090"/>
<polygon points="1069.3,301.0 1078.5,299.2 1084.0,306.5 1076.6,310.1" fill="#80d0c0"/>
<polygon points="1052.8,246.1 1080.3,255.2 1082.1,264.4 1076.6,273.5 1069.3,282.7 1060.2,279.0 1060.2,269.9 1047.3,258.9" fill="#f0f5d8"/>
<polygon points="1071.1,265.3 1075.7,264.4 1076.3,269.9 1071.9,270.8" fill="#98d8a0"/>
<polygon points="1069.3,282.7 1076.6,273.5 1087.6,268.0 1094.9,269.9 1089.5,280.9 1084.0,290.0 1078.5,293.7" fill="#f08050"/>
<polygon points="1084.0,277.2 1094.9,271.7 1096.8,275.4 1087.6,281.8" fill="#3040a8"/>
<polygon points="1078.5,293.7 1084.0,290.0 1104.1,308.3 1107.8,317.5 1118.7,299.2 1126.1,306.5 1131.6,313.8 1133.4,324.8 1126.1,328.1 1104.1,328.1" fill="#f5a838"/>
<polygon points="1084.0,290.0 1089.5,280.9 1104.1,277.2 1120.6,280.9 1126.1,291.8 1118.7,299.2 1107.8,299.2 1104.1,308.3" fill="#8cc63f"/>
<polygon points="1078.5,310.1 1084.0,306.5 1104.1,328.1 1080.3,328.1" fill="#8cc63f"/>
<polygon points="1094.9,302.8 1104.1,301.0 1105.9,308.3 1098.6,312.0" fill="#f0f0b0"/>
<polygon points="1094.9,264.4 1107.8,264.4 1126.1,273.5 1124.2,280.9 1104.1,277.2 1094.9,269.9" fill="#70a8e8"/>
<polygon points="1080.3,255.2 1087.6,249.7 1094.9,255.2 1093.1,266.2 1082.1,264.4" fill="#70b8f0"/>
<polygon points="1089.5,242.4 1100.4,233.3 1107.8,238.8 1115.1,244.2 1118.7,255.2 1126.1,269.9 1107.8,264.4 1094.9,255.2 1087.6,249.7" fill="#c8e060"/>
<polygon points="1071.1,225.9 1098.6,225.9 1100.4,233.3 1089.5,242.4 1087.6,249.7 1080.3,255.2 1074.8,251.6 1074.8,236.9" fill="#8cc63f"/>
<polygon points="1045.5,209.5 1060.2,205.8 1063.8,215.0 1060.2,224.1 1049.2,225.9 1045.5,218.6" fill="#88d0b0"/>
<polygon points="1049.2,205.8 1060.2,196.6 1071.1,176.5 1085.8,176.5 1089.5,191.2 1084.0,202.1 1078.5,204.0 1071.1,202.1 1060.2,205.8" fill="#98d080"/>
<polygon points="1060.2,205.8 1065.7,207.6 1067.5,222.3 1060.2,224.1 1063.8,215.0" fill="#b080d0"/>
<polygon points="1074.8,205.8 1082.1,204.0 1084.0,216.8 1078.5,222.3 1074.8,216.8" fill="#b080d0"/>
<polygon points="1084.0,209.5 1096.8,218.6 1098.6,225.9 1085.8,225.9 1084.0,216.8" fill="#88d0b0"/>
<polygon points="1043.7,225.9 1067.5,223.2 1068.4,226.9 1044.6,229.6" fill="#d090d0"/>
<polygon points="1054.7,229.6 1060.2,228.7 1061.1,234.2 1055.6,235.1" fill="#90d0f0"/>
<polygon points="1062.0,229.6 1074.8,229.6 1073.9,235.1 1062.9,236.0" fill="#f0d040"/>
<polygon points="1054.7,236.9 1063.8,235.1 1074.8,236.9 1074.8,251.6 1052.8,246.1" fill="#f5a030"/>
<polygon points="1089.5,176.5 1137.1,176.5 1133.4,196.6 1126.1,200.3 1118.7,211.3 1113.3,215.0 1104.1,222.3 1096.8,218.6 1084.0,209.5 1084.0,202.1 1089.5,191.2" fill="#e02028"/>
<polygon points="1084.0,201.2 1094.9,199.4 1098.6,204.9 1087.6,205.8" fill="#70a8e8"/>
<polygon points="1133.4,176.5 1159.0,176.5 1164.5,193.0 1159.0,198.5 1144.4,199.4 1137.1,198.5 1133.4,191.2" fill="#3858c0"/>
<polygon points="1149.9,183.8 1160.8,187.5 1164.5,193.0 1160.8,196.6 1151.7,189.3" fill="#e02028"/>
<polygon points="1159.0,176.5 1188.5,176.5 1188.5,205.8 1177.3,207.6 1162.7,200.3 1164.5,193.0" fill="#8cc63f"/>
<polygon points="1162.7,200.3 1177.3,207.6 1188.5,205.8 1188.5,215.0 1179.2,211.3 1164.5,205.8" fill="#e8f0a0"/>
<polygon points="1115.1,213.1 1126.1,200.3 1133.4,198.5 1137.1,202.1 1133.4,205.8 1122.4,211.3" fill="#6090e0"/>
<polygon points="1115.1,215.0 1122.4,211.3 1133.4,205.8 1135.2,218.6 1137.1,236.9 1140.7,249.7 1135.2,255.2 1126.1,253.4 1122.4,244.2 1129.7,231.4 1118.7,220.4" fill="#e84820"/>
<polygon points="1098.6,225.9 1104.1,222.3 1113.3,229.6 1129.7,231.4 1122.4,242.4 1111.4,244.2 1102.3,236.9" fill="#7048a8"/>
<polygon points="1111.4,218.6 1118.7,220.4 1129.7,231.4 1113.3,229.6" fill="#3858c0"/>
<polygon points="1137.1,202.1 1144.4,199.4 1159.0,198.5 1162.7,200.3 1164.5,205.8 1179.2,211.3 1188.5,215.0 1188.5,246.1 1171.8,247.9 1159.0,251.6 1157.2,260.7 1151.7,269.9 1153.5,280.9 1142.5,290.0 1133.4,306.5 1126.1,291.8 1126.1,269.9 1118.7,255.2 1116.9,244.2 1122.4,244.2 1126.1,253.4 1135.2,255.2 1140.7,249.7 1137.1,236.9 1135.2,218.6" fill="#88d0b0"/>
<polygon points="1175.5,223.2 1181.0,222.3 1181.9,226.9 1176.4,227.8" fill="#e02028"/>
<polygon points="1169.1,225.9 1170.9,225.6 1172.7,240.6 1170.9,240.9" fill="#7878c0"/>
<polygon points="1157.2,251.6 1166.3,246.1 1188.5,246.1 1188.5,251.6 1168.2,257.1 1159.0,260.7" fill="#3040a8"/>
<polygon points="1151.7,269.9 1159.0,260.7 1168.2,257.1 1188.5,251.6 1188.5,290.0 1173.7,290.0 1162.7,295.5 1157.2,284.5" fill="#f5a030"/>
<polygon points="1160.8,295.5 1171.8,290.0 1173.7,293.7 1162.7,300.1" fill="#3040a8"/>
<polygon points="1133.4,306.5 1142.5,290.0 1148.0,290.0 1155.4,308.3 1149.9,312.0 1137.1,310.1" fill="#f0c0e0"/>
<polygon points="1148.0,290.0 1157.2,288.2 1160.8,297.3 1153.5,301.0" fill="#f8c890"/>
<polygon points="1133.4,313.8 1140.7,310.1 1148.0,312.0 1146.2,317.5 1137.1,319.3" fill="#c060b0"/>
<polygon points="1131.6,319.3 1146.2,317.5 1159.0,313.8 1160.8,328.1 1133.4,328.1" fill="#8cc63f"/>
<polygon points="1159.0,310.1 1164.5,301.0 1173.7,297.3 1188.5,297.3 1188.5,328.1 1160.8,328.1 1159.0,317.5" fill="#f09080"/>
<polygon points="1155.4,299.2 1164.5,301.0 1159.0,310.1 1155.4,308.3" fill="#98d8a0"/>
<polygon points="1171.8,291.8 1188.5,290.0 1188.5,297.3 1173.7,297.3" fill="#80d0c0"/>
<polygon points="976.0,341.3 979.6,333.9 992.4,326.6 1003.4,324.8 1012.6,333.9 1012.6,339.4 1025.4,346.8 1038.2,341.3 1052.8,358.5 950.3,358.5 954.0,346.8" fill="#e04858"/>
<polygon points="1012.6,333.9 1019.9,330.3 1030.9,333.9 1032.7,343.1 1025.4,346.8 1012.6,339.4" fill="#e02858"/>
<polygon points="1029.0,326.6 1036.4,324.8 1038.2,330.3 1030.9,332.1" fill="#80d0c0"/>
<polygon points="1054.7,326.6 1062.0,325.7 1067.5,330.3 1062.0,343.1 1054.7,343.1" fill="#6040a8"/>
<polygon points="1062.0,326.6 1074.8,324.8 1078.5,333.9 1071.1,335.8 1067.5,330.3" fill="#e84050"/>
<polygon points="1062.0,343.1 1067.5,335.8 1078.5,337.6 1080.3,358.5 1063.8,358.5" fill="#e84050"/>
<polygon points="1038.2,341.3 1054.7,343.1 1063.8,358.5 1052.8,358.5" fill="#e04858"/>
<polygon points="1052.8,344.9 1062.0,344.0 1062.9,358.5 1054.7,358.5" fill="#80d0c0"/>
<polygon points="954.0,346.8 979.6,333.9 981.4,336.7 955.8,349.5" fill="#d8d8e0"/>
</g>
<clipPath id="c_ebsd_E"><rect x="850" y="300" width="240.00" height="67.73"/></clipPath>
<g clip-path="url(#c_ebsd_E)" stroke="#2f3c1a" stroke-width="0.75" stroke-linejoin="round">
<polygon points="856.4,331.1 866.5,331.1 872.0,336.6 873.8,345.8 870.1,356.8 861.0,364.1 856.4,366.8" fill="#e85048"/>
<polygon points="873.8,342.1 895.8,336.6 910.4,327.5 915.9,336.6 917.7,347.6 910.4,353.1 895.8,353.1 892.1,362.2 861.0,366.8 870.1,356.8" fill="#8cc63f"/>
<polygon points="864.6,331.1 879.3,311.9 884.8,314.6 870.1,334.8" fill="#e83030"/>
<polygon points="892.1,362.2 895.8,353.1 910.4,353.1 923.2,358.6 930.5,354.9 948.9,358.6 948.9,373.2 892.1,373.2" fill="#f07830"/>
<polygon points="910.4,353.1 919.6,349.4 926.9,353.1 923.2,358.6" fill="#8cc63f"/>
<polygon points="915.9,366.8 932.4,354.9 936.0,356.8 921.4,366.8" fill="#3050b0"/>
<polygon points="897.6,353.1 914.1,364.1 912.2,365.9 895.8,354.9" fill="#2a3c98"/>
<polygon points="910.4,318.3 934.2,318.3 934.2,338.4 921.4,345.8 915.9,336.6" fill="#2040a8"/>
<polygon points="921.4,345.8 934.2,338.4 941.5,343.9 948.9,356.8 930.5,354.9" fill="#e03858"/>
<polygon points="934.2,318.3 948.9,309.2 961.7,318.3 976.3,325.6 978.1,334.8 976.3,353.1 967.2,354.9 948.9,353.1 941.5,343.9 934.2,338.4" fill="#f0f0b0"/>
<polygon points="948.9,349.4 959.8,347.6 961.7,353.1 949.8,354.6" fill="#8cc63f"/>
<polygon points="948.9,354.9 967.2,353.1 970.8,356.8 970.8,373.2 948.9,373.2" fill="#7858b0"/>
<polygon points="970.8,358.6 989.1,358.6 991.0,373.2 970.8,373.2" fill="#80d0b0"/>
<polygon points="976.3,334.8 989.1,333.0 1001.9,323.8 1011.1,334.8 1025.7,345.8 1033.1,342.1 1049.5,340.3 1055.0,351.3 1053.2,373.2 991.0,373.2 976.3,353.1" fill="#e04858"/>
<polygon points="952.5,348.5 978.1,334.8 979.2,337.0 953.6,350.9" fill="#d8d8e0"/>
<polygon points="994.6,363.2 1005.6,357.7 1007.1,360.0 996.1,365.5" fill="#3040a0"/>
<polygon points="948.9,309.2 956.2,301.8 974.5,301.8 976.3,307.3 961.7,318.3" fill="#e8e860"/>
<polygon points="961.7,318.3 976.3,312.8 978.1,323.8 976.3,325.6" fill="#70a8e8"/>
<polygon points="976.3,307.3 985.5,305.5 996.5,316.5 991.0,327.5 981.8,333.0 976.3,325.6" fill="#e02838"/>
<polygon points="1011.1,334.8 1018.4,330.2 1031.2,334.8 1033.1,342.1 1025.7,345.8" fill="#e02858"/>
<polygon points="1055.0,351.3 1062.4,343.9 1064.2,373.2 1053.2,373.2" fill="#80d0c0"/>
<polygon points="1058.7,353.1 1077.0,356.8 1078.8,373.2 1060.5,373.2" fill="#6040a8"/>
<polygon points="1062.4,334.8 1077.0,336.6 1080.7,354.9 1064.2,354.9" fill="#e84050"/>
<polygon points="1056.9,333.0 1064.2,325.6 1067.8,334.8 1062.4,347.6 1056.9,345.8" fill="#6040a8"/>
<polygon points="1040.4,363.2 1053.2,353.1 1054.7,354.9 1042.2,365.0" fill="#e8e0e8"/>
</g>
<g stroke="#2f3c1a" stroke-width="0.75" stroke-linejoin="round">
<polygon points="1064.4,194.9 1074.0,188.5 1083.7,186.4 1089.0,189.6 1088.0,193.9 1083.7,203.5 1075.1,205.6 1062.3,205.6 1047.3,208.8 1053.7,201.3" fill="#98d890"/>
<polygon points="1053.7,156.4 1065.5,159.6 1080.5,157.5 1095.4,162.8 1094.4,170.3 1088.0,179.9 1083.7,186.4 1074.0,188.5 1064.4,194.9 1053.7,201.3 1043.0,206.7 1043.0,199.2 1053.2,199.2" fill="#f5a838" stroke="none"/>
<polygon points="1058.0,173.5 1067.1,162.8 1068.7,164.4 1059.6,174.8" fill="#3850b0"/>
<polygon points="1088.0,193.9 1090.1,186.4 1102.9,179.9 1112.6,172.4 1121.1,162.8 1134.0,158.5 1141.5,157.5 1143.6,162.8 1141.5,170.3 1142.5,179.9 1136.1,184.2 1132.9,188.5 1136.1,197.1 1126.5,199.2 1117.9,208.8 1113.6,216.3 1102.9,220.0 1094.4,214.2 1083.7,205.6" fill="#d81820" stroke="none"/>
<polygon points="1089.0,158.5 1098.7,155.3 1107.2,157.5 1120.1,163.9 1112.6,172.4 1102.9,179.9 1096.5,184.2 1090.1,178.9 1094.4,170.3 1095.4,162.8" fill="#3850b0"/>
<polygon points="1096.5,167.6 1101.3,166.6 1101.9,172.4 1097.6,173.5" fill="#f07020"/>
<polygon points="1142.5,167.1 1150.0,165.0 1160.7,162.8 1173.6,155.3 1183.0,156.4 1183.0,201.3 1176.8,203.5 1163.9,199.2 1163.9,192.8 1156.5,182.1 1145.8,181.0 1142.5,179.9 1141.5,170.3" fill="#98c838" stroke="none"/>
<polygon points="1132.9,188.5 1136.1,184.2 1145.8,181.0 1156.5,182.1 1163.9,192.8 1160.7,198.1 1150.0,197.1 1141.5,200.3 1136.1,197.1" fill="#3860c0"/>
<polygon points="1149.0,184.2 1154.3,183.1 1163.9,191.7 1160.7,198.1" fill="#e02028"/>
<polygon points="1146.8,186.4 1150.0,185.3 1158.6,197.1 1155.4,198.1" fill="#80b0f0"/>
<polygon points="1117.9,208.8 1126.5,199.2 1132.9,199.2 1136.1,203.5 1128.6,209.9 1120.1,211.0" fill="#70a0e0"/>
<polygon points="1084.7,201.3 1092.2,199.7 1098.7,204.6 1086.9,205.6" fill="#80b8f0"/>
</g>
<g stroke="#2f3c1a" stroke-width="0.75" stroke-linejoin="round">
<polygon points="898.7,15.3 903.0,11.0 936.1,11.0 936.1,30.3 932.9,43.1 927.6,56.0 925.4,58.1 920.1,51.7 897.6,37.8 898.7,26.0" fill="#7040a8" stroke="none"/>
<polygon points="912.6,14.2 924.4,16.4 923.3,19.6 911.5,16.4" fill="#d02878"/>
<polygon points="899.8,24.9 920.1,36.7 921.2,39.9 898.7,28.1" fill="#d02878"/>
<polygon points="896.5,36.7 920.1,51.7 926.5,59.2 925.4,64.5 920.1,65.6 907.3,53.8 897.6,43.1" fill="#d02878"/>
<polygon points="936.1,17.4 939.4,11.0 977.9,11.0 971.5,17.4 969.3,27.1 967.2,30.3 961.8,28.1 954.3,34.5 950.1,39.9 947.9,39.9 939.4,29.2" fill="#88d0c8" stroke="none"/>
<polygon points="939.4,17.4 943.6,16.4 954.3,26.0 957.6,24.9 961.8,28.1 954.3,34.5 947.9,30.3 941.5,22.8" fill="#e02020"/>
<polygon points="959.7,17.4 964.0,16.4 969.3,24.9 967.2,28.1 961.8,21.7" fill="#e02020"/>
<polygon points="961.8,13.1 967.2,12.1 971.5,17.4 969.3,21.7" fill="#a0d040"/>
<polygon points="927.6,56.0 932.9,43.1 936.1,30.3 939.4,29.2 947.9,39.9 950.1,43.1 946.9,47.4 947.9,53.8 945.8,59.2 937.2,61.3 928.7,60.2" fill="#88d0c8"/>
<polygon points="950.1,39.9 954.3,34.5 967.2,30.3 973.6,37.8 972.5,56.0 970.4,63.4 962.9,66.7 956.5,73.1 952.2,84.9 946.9,79.5 937.2,68.8 934.0,62.4 937.2,61.3 945.8,59.2 947.9,53.8 946.9,47.4" fill="#d0e878"/>
<polygon points="947.9,53.8 959.7,51.7 960.8,54.9 952.2,58.1 949.0,57.0" fill="#80c0f0"/>
<polygon points="956.5,73.1 962.9,66.7 970.4,63.4 970.4,75.2 964.0,77.4" fill="#b0e0a0"/>
<polygon points="952.2,84.9 954.3,77.4 964.0,77.4 970.4,79.5 971.5,85.9 952.2,89.1" fill="#90d0d8"/>
<polygon points="926.5,66.7 930.8,62.4 934.0,62.4 937.2,68.8 946.9,79.5 952.2,84.9 952.2,89.1 969.3,88.1 969.3,100.9 960.8,107.3 956.5,111.0 947.9,103.0 941.5,96.6 928.7,96.6 925.4,88.1 929.7,75.2" fill="#98d040" stroke="none"/>
<polygon points="901.9,61.3 907.3,57.0 919.0,70.9 914.7,75.2 907.3,68.8" fill="#a8d878"/>
<polygon points="899.8,77.4 907.3,72.0 914.7,76.3 910.5,84.9 904.0,84.9" fill="#f5b040"/>
<polygon points="909.4,85.9 920.1,83.8 926.5,70.9 929.7,75.2 925.4,88.1 928.7,96.6 922.2,98.8 915.8,92.3" fill="#f5b040"/>
<polygon points="912.6,82.7 920.1,72.0 924.4,73.1 918.0,84.9" fill="#3858c0"/>
<polygon points="883.7,111.0 889.1,99.8 899.8,84.9 909.4,85.9 915.8,92.3 922.2,98.8 920.1,103.0 915.8,105.2 918.0,111.0" fill="#b8e090" stroke="none"/>
<polygon points="920.1,103.0 928.7,96.6 941.5,96.6 947.9,103.0 956.5,111.0 918.0,111.0 915.8,105.2" fill="#a0d8b0" stroke="none"/>
<polygon points="971.5,17.4 977.9,11.0 1006.8,11.0 1005.7,26.0 996.1,37.8 980.0,38.8 973.6,37.8 969.3,27.1" fill="#f08040" stroke="none"/>
<polygon points="981.1,14.2 1004.6,22.8 1003.6,26.0 980.0,17.4" fill="#2444a4"/>
<polygon points="973.6,37.8 980.0,38.8 997.2,37.8 1003.6,43.1 1004.6,53.8 995.0,59.2 971.5,75.2 970.4,63.4 972.5,56.0" fill="#4868c0"/>
<polygon points="970.4,77.4 995.0,59.2 1004.6,53.8 1013.0,53.8 1013.0,70.9 1006.8,72.0 972.5,94.5" fill="#e02818" stroke="none"/>
<polygon points="971.5,94.5 1001.4,75.2 1000.4,88.1 998.2,98.8 980.0,104.1 971.5,99.8" fill="#4868c0"/>
</g>
<g stroke="#2f3c1a" stroke-width="0.75" stroke-linejoin="round">
<polygon points="915.8,227.1 923.3,214.3 926.5,203.6 941.5,203.6 942.6,213.2 947.9,216.4 946.9,227.1 941.5,230.3 930.8,231.4 923.3,235.7" fill="#d8eca0"/>
<polygon points="941.5,211.1 947.9,203.6 957.6,199.3 974.7,199.3 974.7,212.1 967.2,218.5 962.9,217.5 954.3,216.4 947.9,216.4" fill="#f5b050"/>
<polygon points="946.9,227.1 950.1,220.7 957.6,237.8 954.3,240.0 947.9,236.7" fill="#f5b050"/>
<polygon points="969.3,218.5 975.8,216.4 986.5,215.3 991.8,218.5 992.9,227.1 985.4,235.7 984.3,241.0 977.9,248.5 973.6,250.7 967.2,242.1 966.1,235.7" fill="#8858b0"/>
<polygon points="965.0,220.7 969.3,218.5 972.5,225.0 969.3,231.4 965.0,231.4" fill="#88d0a8"/>
<polygon points="960.8,248.5 965.0,235.7 967.2,242.1 973.6,250.7 975.8,254.9 969.3,256.0 962.9,252.8" fill="#3858c0"/>
<polygon points="977.9,245.3 983.2,241.0 984.3,246.4 979.0,248.5" fill="#f0f0c0"/>
<polygon points="996.1,244.2 999.8,243.4 1000.6,247.4 996.9,248.3" fill="#f0f0f0"/>
<polygon points="890.1,233.5 899.8,221.8 905.1,220.7 913.7,229.3 923.3,235.7 930.8,243.2 937.2,245.3 932.9,249.6 928.7,252.8 923.3,248.5 915.8,241.0 908.3,238.9 898.7,242.1" fill="#f5b840"/>
<polygon points="883.7,261.4 889.1,250.7 898.7,243.2 908.3,240.0 915.8,242.1 923.3,250.7 928.7,254.9 923.3,263.5 926.5,266.7 932.9,267.8 935.1,274.2 928.7,279.6 921.2,287.0 913.7,288.1 908.3,282.8 899.8,276.3 894.4,272.1" fill="#a0d070"/>
<polygon points="929.7,232.5 937.2,231.4 943.6,230.3 946.9,234.6 941.5,240.0 937.2,244.2 930.8,237.8" fill="#b0d8f0"/>
<polygon points="941.5,240.0 947.9,237.8 957.6,241.0 959.7,248.5 947.9,252.8 943.6,248.5" fill="#d0e8a0"/>
<polygon points="942.6,244.2 947.9,237.8 950.1,240.0 945.8,246.4" fill="#90d0c0"/>
<polygon points="941.5,258.1 947.9,253.9 960.8,249.6 969.3,256.0 975.8,256.0 969.3,259.2 950.1,263.5 942.6,263.5" fill="#3860c0"/>
<polygon points="959.7,249.6 961.8,249.1 969.3,254.9 967.2,256.0" fill="#e02020"/>
<polygon points="939.4,256.0 943.6,254.9 947.9,260.3 941.5,262.4" fill="#e02020"/>
<polygon points="942.6,263.5 950.1,263.5 969.3,259.2 975.8,256.0 976.8,261.4 970.4,267.8 969.3,276.3 960.8,280.6 945.8,277.4 940.4,273.1" fill="#f5a848"/>
<polygon points="975.8,256.0 980.0,259.2 982.2,263.5 976.8,261.4" fill="#f5a030"/>
<polygon points="970.4,267.8 976.8,262.4 983.2,264.6 989.7,267.8 993.9,274.2 990.7,280.6 984.3,287.0 975.8,282.8 969.3,276.3" fill="#e02818"/>
<polygon points="923.3,263.5 930.8,257.1 938.3,256.0 940.4,261.4 932.9,267.8 926.5,266.7" fill="#f0f5c0"/>
<polygon points="921.2,287.0 928.7,280.6 935.1,276.3 941.5,278.5 942.6,287.0 941.5,295.0 923.3,295.0" fill="#b8e0f0" stroke="none"/>
<polygon points="908.3,291.3 921.2,288.1 923.3,295.0 907.3,295.0" fill="#90d0c8" stroke="none"/>
<polygon points="942.6,279.6 960.8,280.6 964.0,283.8 962.9,289.2 942.6,283.8" fill="#f0c040"/>
<polygon points="941.5,284.9 962.9,290.3 964.0,295.0 942.6,295.0" fill="#4858c0" stroke="none"/>
<polygon points="964.0,283.8 969.3,279.6 975.8,282.8 973.6,286.0 965.0,288.1" fill="#e0e050"/>
<polygon points="969.3,289.2 975.8,286.0 984.3,288.1 990.7,283.8 999.3,282.8 1013.0,288.1 1013.0,295.0 969.3,295.0" fill="#5878c8" stroke="none"/>
<polygon points="990.7,280.6 999.3,274.2 1002.5,277.4 999.3,282.8 990.7,283.8" fill="#b090d0"/>
<polygon points="883.7,269.9 886.9,268.9 894.4,272.1 894.4,278.5 886.9,280.6" fill="#90d0c8"/>
<polygon points="894.4,274.2 899.8,276.3 908.3,283.8 910.5,289.2 908.3,290.3 897.6,280.6" fill="#f5b840"/>
</g>
<g stroke="#2f3c1a" stroke-width="0.75" stroke-linejoin="round">
<polygon points="901.9,296.4 910.5,290.0 922.2,288.9 932.9,292.1 939.4,299.6 950.1,301.8 947.9,307.1 937.2,313.5 932.9,316.7 926.5,312.5 915.8,313.5 909.4,317.8 906.2,310.3" fill="#88d0c0"/>
<polygon points="922.2,288.9 924.4,283.6 932.9,281.4 941.5,284.6 942.6,293.2 939.4,299.6 932.9,292.1" fill="#c0e0f0"/>
<polygon points="939.4,299.6 942.6,293.2 950.1,294.3 955.4,299.6 950.1,301.8" fill="#a0d8c8"/>
<polygon points="915.8,313.5 926.5,312.5 932.9,316.7 934.0,320.0 910.5,318.9" fill="#a0d050"/>
<polygon points="910.5,318.9 934.0,320.0 935.1,338.1 926.5,341.4 920.1,345.6 915.8,341.4 914.7,330.7" fill="#2444a4"/>
<polygon points="873.0,338.1 894.4,336.0 904.0,332.8 909.4,325.3 914.7,330.7 915.8,341.4 920.1,345.6 918.0,349.9 910.5,352.1 896.5,353.1 892.3,360.6 873.0,362.8" fill="#88c838" stroke="none"/>
<polygon points="920.1,345.6 926.5,341.4 935.1,338.1 941.5,343.5 947.9,354.2 946.9,357.4 937.2,356.3 924.4,352.1" fill="#e03858"/>
<polygon points="934.0,320.0 937.2,313.5 945.8,309.3 951.1,313.5 960.8,317.8 975.8,325.3 977.9,332.8 973.6,339.2 973.6,355.3 964.0,353.1 947.9,354.2 941.5,343.5 935.1,338.1" fill="#f5f0b0"/>
<polygon points="952.2,347.8 977.9,334.9 979.0,337.1 953.3,349.9" fill="#d0d0d8"/>
<polygon points="950.1,349.9 957.6,347.8 962.9,349.9 964.0,353.1 949.0,354.2" fill="#98d060"/>
<polygon points="949.0,355.3 964.0,353.1 971.5,356.3 970.4,368.1 950.1,368.1" fill="#7858b0"/>
<polygon points="971.5,359.6 988.6,358.5 989.7,368.1 970.4,368.1" fill="#88d0b0"/>
<polygon points="971.5,357.4 977.9,356.3 980.0,359.6 971.5,360.6" fill="#98d060"/>
<polygon points="892.3,360.6 896.5,353.1 910.5,352.1 918.0,349.9 924.4,352.1 937.2,356.3 946.9,357.4 950.1,368.1 892.3,368.1" fill="#f07830"/>
<polygon points="910.5,352.1 918.0,349.9 925.4,352.1 922.2,360.6 915.8,360.6" fill="#8cc63f"/>
<polygon points="896.5,353.7 910.5,359.6 909.4,361.7 895.5,355.3" fill="#3040a0"/>
<polygon points="915.8,368.1 930.8,355.3 936.1,356.3 923.3,368.1" fill="#3040a0"/>
<polygon points="950.1,302.8 956.5,300.7 958.6,306.0 961.8,315.7 957.6,316.7 951.1,311.4" fill="#e8e870"/>
<polygon points="958.6,303.9 972.5,298.5 975.8,305.0 974.7,311.4 961.8,313.5" fill="#e0e860"/>
<polygon points="961.8,315.7 974.7,311.4 976.8,316.7 975.8,325.3 969.3,322.1" fill="#70a8e8"/>
<polygon points="975.8,306.0 980.0,306.0 990.7,310.3 996.1,315.7 990.7,323.2 984.3,331.7 979.0,332.8 975.8,325.3 976.8,316.7" fill="#e02830"/>
<polygon points="955.4,297.5 958.6,294.3 967.2,294.3 970.4,297.5 967.2,300.7 957.6,301.2" fill="#e02838"/>
<polygon points="941.5,285.7 964.0,290.0 966.1,293.2 958.6,294.3 955.4,297.5 942.6,293.2" fill="#4858c0"/>
<polygon points="969.3,290.0 975.8,286.8 984.3,288.9 986.5,306.0 980.0,306.0 975.8,305.0 972.5,298.5 970.4,297.5" fill="#5878c8"/>
<polygon points="973.6,339.2 977.9,332.8 984.3,331.7 990.7,323.2 1001.4,323.2 1008.9,332.8 1013.0,334.9 1013.0,368.1 989.7,368.1 988.6,358.5 973.6,355.3" fill="#e04858" stroke="none"/>
<polygon points="983.2,333.9 990.7,334.9 987.5,339.2" fill="#f0e8f0"/>
<polygon points="993.9,363.8 1005.7,357.4 1006.8,359.6 995.0,365.4" fill="#3040a0"/>
</g>
<g stroke="#2f3c1a" stroke-width="0.75" stroke-linejoin="round">
<polygon points="728.7,218.5 750.1,223.8 762.9,219.6 771.5,209.9 782.2,203.5 786.5,209.9 784.3,220.6 786.5,227.0 782.2,233.5 745.8,233.5 741.5,226.0" fill="#90c8e0"/>
<polygon points="702.5,134.5 724.4,134.5 730.8,141.4 735.1,143.6 739.4,140.4 750.1,144.6 753.3,150.0 760.8,153.2 769.4,148.9 777.9,148.9 784.3,154.3 782.2,159.6 777.9,162.8 769.4,168.2 764.0,177.8 771.5,180.0 777.9,185.3 784.3,186.4 788.6,182.1 777.9,194.9 782.2,203.5 771.5,209.9 762.9,219.6 750.1,223.8 741.5,223.8 734.0,220.6 728.7,218.5 716.9,222.8 711.6,209.9 706.2,199.2 702.5,186.4" fill="#d8201c" stroke="none"/>
<polygon points="722.3,171.4 729.8,169.3 743.7,169.3 744.7,177.8 742.6,183.2 729.8,184.2 719.1,185.3 711.6,185.3 720.1,181.0" fill="#3a60c0"/>
<polygon points="718.0,190.7 723.3,188.5 725.5,194.9 723.3,199.2 718.0,198.1" fill="#3a60c0"/>
<polygon points="762.4,185.3 766.1,184.2 767.2,188.5 764.0,189.6" fill="#3a60c0"/>
<polygon points="752.2,196.0 760.8,190.7 766.1,191.7 765.1,198.1 756.5,202.4" fill="#90c8e0"/>
<polygon points="776.9,194.9 788.6,182.1 801.5,175.7 801.5,190.7 790.8,199.2 782.2,203.5" fill="#90c8e0"/>
<polygon points="762.9,177.8 769.4,168.2 775.8,169.3 782.2,173.5 791.8,177.8 788.6,182.1 784.3,186.4 777.9,185.3 771.5,180.0" fill="#80d0b8"/>
<polygon points="781.1,171.4 784.3,162.8 790.8,160.7 792.9,166.0 786.5,172.5" fill="#a0d8b0"/>
<polygon points="748.0,169.3 764.0,154.3 766.1,156.4 750.1,170.9" fill="#90d0d0"/>
<polygon points="752.2,156.4 754.4,146.8 757.6,145.7 758.7,155.3 754.4,158.0" fill="#80d0b8"/>
<polygon points="735.1,143.6 739.4,140.4 750.1,144.6 753.3,150.0 745.8,154.3 738.3,152.1" fill="#3a60c0"/>
<polygon points="740.5,141.4 743.7,140.4 751.2,146.8 748.0,148.9" fill="#d8201c"/>
<polygon points="777.9,159.6 784.3,154.3 788.6,153.2 795.0,154.3 801.5,157.5 801.5,162.8 792.9,161.8 784.3,162.8" fill="#3a60c0"/>
<polygon points="784.3,173.5 792.9,166.0 801.5,163.9 801.5,175.7 791.8,177.8" fill="#f08020"/>
<polygon points="740.5,200.3 744.7,198.1 748.0,201.4 749.0,207.8 742.6,208.9" fill="#9070c0"/>
<polygon points="744.7,206.7 748.5,205.9 749.0,208.3 745.3,209.1" fill="#f0b080"/>
<polygon points="769.4,212.1 775.8,209.9 780.1,217.4 777.9,220.6 771.5,220.6" fill="#9060c0"/>
<polygon points="773.6,217.4 777.9,216.3 779.0,220.1 774.7,220.6" fill="#c02070"/>
<polygon points="730.8,203.5 733.0,197.1 735.1,198.1 733.0,204.6" fill="#80d0b8"/>
<polygon points="770.4,201.4 772.6,196.5 774.7,197.6 772.6,202.4" fill="#80d0b8"/>
<polygon points="751.2,203.5 753.3,201.9 754.9,206.7 752.8,207.8" fill="#3a60c0"/>
<polygon points="749.0,223.8 771.5,221.7 772.6,223.8 750.1,226.5" fill="#a0d8c8"/>
<polygon points="782.2,203.5 787.6,200.3 795.0,201.4 799.3,207.8 805.8,212.1 807.9,216.3 803.6,220.6 799.3,223.8 797.2,229.2 790.8,224.9 784.3,220.6 786.5,209.9" fill="#3a60c0"/>
<polygon points="803.6,220.6 810.0,214.2 814.3,205.6 825.0,203.5 823.9,209.9 819.7,218.5 818.6,226.0 810.0,228.1 804.7,228.1" fill="#7088d8"/>
<polygon points="790.8,199.2 801.5,190.7 801.5,199.2 810.0,200.3 814.3,205.6 810.0,214.2 805.8,212.1 799.3,207.8 795.0,201.4" fill="#d8201c"/>
<polygon points="784.3,227.0 790.8,224.9 797.2,229.2 799.3,234.0 783.3,234.0" fill="#e02020"/>
<polygon points="804.7,228.1 810.0,228.1 818.6,226.0 818.6,234.0 805.8,234.0" fill="#e02020"/>
<polygon points="816.5,199.2 836.8,199.2 836.8,205.6 831.4,207.8 825.0,203.5" fill="#a0d8c0"/>
<polygon points="819.7,218.5 823.9,209.9 831.4,207.8 836.8,206.2 836.8,234.0 818.6,234.0" fill="#c0e070"/>
<polygon points="711.6,226.0 721.2,222.8 722.3,226.0 713.7,230.3" fill="#8cc63f"/>
<polygon points="702.5,201.4 706.2,199.2 711.6,209.9 716.9,222.8 711.6,222.8 702.5,227.0" fill="#b0e0a0" stroke="none"/>
</g>
</g></g>
<rect x="802.2" y="145.6" width="250.8" height="53.4" fill="#fff"/>
<rect x="695" y="234.5" width="161.5" height="150" fill="#fff"/>
<rect x="1081.2" y="328" width="110" height="50" fill="#fff"/>
<rect x="690" y="367" width="500" height="12" fill="#fff"/>
<text x="870.2" y="176.8" font-size="21.5" fill="#000" text-anchor="start" stroke="#000" stroke-width="0.22">Annealing twins</text>
<ellipse cx="944.2" cy="202" rx="7.5" ry="2.7" fill="#8fa89a" stroke="#0c0c0c" stroke-width="1.8"/>
<path d="M912.8,202.7 L917.1,206.1 L897.8,223 L900,227.6 L872.5,240.5 L888.8,215.6 L893.3,218.8 Z" fill="#0c0c0c"/>
<path d="M952.7,202.5 L957.8,202.5 L961,218.8 L965.3,218 L962.5,249.8 L949.8,220.2 L955.9,219.8 Z" fill="#0c0c0c"/>
<clipPath id="ipfclip"><path d="M714.3,355.6 L848.5,355.6 Q848.6,297.5 827.9,245.0 Z"/></clipPath>
<filter id="ipfblur" x="-5%" y="-5%" width="110%" height="110%"><feGaussianBlur stdDeviation="2.1"/></filter>
<g clip-path="url(#ipfclip)"><g filter="url(#ipfblur)">
<path d="M700,370 L860,370 L860,235 L700,235 Z" fill="#888"/>
<rect x="820" y="243" width="3.9" height="3.9" fill="#1f3b92"/>
<rect x="823.6" y="243" width="3.9" height="3.9" fill="#1c3890"/>
<rect x="827.2" y="243" width="3.9" height="3.9" fill="#1c3890"/>
<rect x="830.8" y="243" width="3.9" height="3.9" fill="#1d3991"/>
<rect x="834.4" y="243" width="3.9" height="3.9" fill="#213e95"/>
<rect x="838" y="243" width="3.9" height="3.9" fill="#27449a"/>
<rect x="841.6" y="243" width="3.9" height="3.9" fill="#2d4b9d"/>
<rect x="845.2" y="243" width="3.9" height="3.9" fill="#3351a1"/>
<rect x="848.8" y="243" width="3.9" height="3.9" fill="#3957a3"/>
<rect x="816.4" y="246.6" width="3.9" height="3.9" fill="#253e98"/>
<rect x="820" y="246.6" width="3.9" height="3.9" fill="#213c95"/>
<rect x="823.6" y="246.6" width="3.9" height="3.9" fill="#1d3991"/>
<rect x="827.2" y="246.6" width="3.9" height="3.9" fill="#1d3991"/>
<rect x="830.8" y="246.6" width="3.9" height="3.9" fill="#1f3b93"/>
<rect x="834.4" y="246.6" width="3.9" height="3.9" fill="#234198"/>
<rect x="838" y="246.6" width="3.9" height="3.9" fill="#28479d"/>
<rect x="812.8" y="250.2" width="3.9" height="3.9" fill="#253d99"/>
<rect x="816.4" y="250.2" width="3.9" height="3.9" fill="#253d99"/>
<rect x="820" y="250.2" width="3.9" height="3.9" fill="#243e98"/>
<rect x="823.6" y="250.2" width="3.9" height="3.9" fill="#223e97"/>
<rect x="827.2" y="250.2" width="3.9" height="3.9" fill="#223f98"/>
<rect x="830.8" y="250.2" width="3.9" height="3.9" fill="#23439c"/>
<rect x="834.4" y="250.2" width="3.9" height="3.9" fill="#26479f"/>
<rect x="838" y="250.2" width="3.9" height="3.9" fill="#294aa1"/>
<rect x="809.2" y="253.8" width="3.9" height="3.9" fill="#273e9a"/>
<rect x="812.8" y="253.8" width="3.9" height="3.9" fill="#243c98"/>
<rect x="816.4" y="253.8" width="3.9" height="3.9" fill="#243c98"/>
<rect x="820" y="253.8" width="3.9" height="3.9" fill="#253f9a"/>
<rect x="823.6" y="253.8" width="3.9" height="3.9" fill="#26439d"/>
<rect x="827.2" y="253.8" width="3.9" height="3.9" fill="#2547a1"/>
<rect x="830.8" y="253.8" width="3.9" height="3.9" fill="#2548a3"/>
<rect x="834.4" y="253.8" width="3.9" height="3.9" fill="#2649a4"/>
<rect x="838" y="253.8" width="3.9" height="3.9" fill="#294ca4"/>
<rect x="805.6" y="257.4" width="3.9" height="3.9" fill="#2f439e"/>
<rect x="809.2" y="257.4" width="3.9" height="3.9" fill="#27409c"/>
<rect x="812.8" y="257.4" width="3.9" height="3.9" fill="#243d9a"/>
<rect x="816.4" y="257.4" width="3.9" height="3.9" fill="#243d99"/>
<rect x="820" y="257.4" width="3.9" height="3.9" fill="#26409c"/>
<rect x="823.6" y="257.4" width="3.9" height="3.9" fill="#2746a0"/>
<rect x="827.2" y="257.4" width="3.9" height="3.9" fill="#2548a4"/>
<rect x="830.8" y="257.4" width="3.9" height="3.9" fill="#2448a4"/>
<rect x="834.4" y="257.4" width="3.9" height="3.9" fill="#2549a4"/>
<rect x="838" y="257.4" width="3.9" height="3.9" fill="#284ca6"/>
<rect x="802" y="261" width="3.9" height="3.9" fill="#3f439e"/>
<rect x="805.6" y="261" width="3.9" height="3.9" fill="#33439e"/>
<rect x="809.2" y="261" width="3.9" height="3.9" fill="#25419f"/>
<rect x="812.8" y="261" width="3.9" height="3.9" fill="#2140a0"/>
<rect x="816.4" y="261" width="3.9" height="3.9" fill="#22419f"/>
<rect x="820" y="261" width="3.9" height="3.9" fill="#2744a0"/>
<rect x="823.6" y="261" width="3.9" height="3.9" fill="#2949a3"/>
<rect x="827.2" y="261" width="3.9" height="3.9" fill="#274aa5"/>
<rect x="830.8" y="261" width="3.9" height="3.9" fill="#2549a4"/>
<rect x="834.4" y="261" width="3.9" height="3.9" fill="#264aa5"/>
<rect x="838" y="261" width="3.9" height="3.9" fill="#2b51aa"/>
<rect x="798.4" y="264.6" width="3.9" height="3.9" fill="#44419d"/>
<rect x="802" y="264.6" width="3.9" height="3.9" fill="#43419c"/>
<rect x="805.6" y="264.6" width="3.9" height="3.9" fill="#3c429e"/>
<rect x="809.2" y="264.6" width="3.9" height="3.9" fill="#2641a0"/>
<rect x="812.8" y="264.6" width="3.9" height="3.9" fill="#2040a0"/>
<rect x="816.4" y="264.6" width="3.9" height="3.9" fill="#2241a0"/>
<rect x="820" y="264.6" width="3.9" height="3.9" fill="#2847a2"/>
<rect x="823.6" y="264.6" width="3.9" height="3.9" fill="#2d4ea6"/>
<rect x="827.2" y="264.6" width="3.9" height="3.9" fill="#2d51a9"/>
<rect x="830.8" y="264.6" width="3.9" height="3.9" fill="#2c52ab"/>
<rect x="834.4" y="264.6" width="3.9" height="3.9" fill="#2f58b0"/>
<rect x="838" y="264.6" width="3.9" height="3.9" fill="#3560b6"/>
<rect x="841.6" y="264.6" width="3.9" height="3.9" fill="#3965b8"/>
<rect x="794.8" y="268.2" width="3.9" height="3.9" fill="#49449e"/>
<rect x="798.4" y="268.2" width="3.9" height="3.9" fill="#44419c"/>
<rect x="802" y="268.2" width="3.9" height="3.9" fill="#44409c"/>
<rect x="805.6" y="268.2" width="3.9" height="3.9" fill="#41429d"/>
<rect x="809.2" y="268.2" width="3.9" height="3.9" fill="#3044a0"/>
<rect x="812.8" y="268.2" width="3.9" height="3.9" fill="#2744a1"/>
<rect x="816.4" y="268.2" width="3.9" height="3.9" fill="#2846a3"/>
<rect x="820" y="268.2" width="3.9" height="3.9" fill="#2e4da7"/>
<rect x="823.6" y="268.2" width="3.9" height="3.9" fill="#3254ab"/>
<rect x="827.2" y="268.2" width="3.9" height="3.9" fill="#355cb2"/>
<rect x="830.8" y="268.2" width="3.9" height="3.9" fill="#3865bb"/>
<rect x="834.4" y="268.2" width="3.9" height="3.9" fill="#3b6cc2"/>
<rect x="838" y="268.2" width="3.9" height="3.9" fill="#3c6ec4"/>
<rect x="841.6" y="268.2" width="3.9" height="3.9" fill="#3e6ec2"/>
<rect x="791.2" y="271.8" width="3.9" height="3.9" fill="#5d4ba2"/>
<rect x="794.8" y="271.8" width="3.9" height="3.9" fill="#5047a0"/>
<rect x="798.4" y="271.8" width="3.9" height="3.9" fill="#47439e"/>
<rect x="802" y="271.8" width="3.9" height="3.9" fill="#45429d"/>
<rect x="805.6" y="271.8" width="3.9" height="3.9" fill="#4346a0"/>
<rect x="809.2" y="271.8" width="3.9" height="3.9" fill="#3b4ba3"/>
<rect x="812.8" y="271.8" width="3.9" height="3.9" fill="#344da6"/>
<rect x="816.4" y="271.8" width="3.9" height="3.9" fill="#3150a9"/>
<rect x="820" y="271.8" width="3.9" height="3.9" fill="#3153ab"/>
<rect x="823.6" y="271.8" width="3.9" height="3.9" fill="#3457ae"/>
<rect x="827.2" y="271.8" width="3.9" height="3.9" fill="#3962b7"/>
<rect x="830.8" y="271.8" width="3.9" height="3.9" fill="#3c6dc3"/>
<rect x="834.4" y="271.8" width="3.9" height="3.9" fill="#3c70c8"/>
<rect x="838" y="271.8" width="3.9" height="3.9" fill="#3c70c8"/>
<rect x="841.6" y="271.8" width="3.9" height="3.9" fill="#3f72c6"/>
<rect x="787.6" y="275.4" width="3.9" height="3.9" fill="#6c48a2"/>
<rect x="791.2" y="275.4" width="3.9" height="3.9" fill="#664aa3"/>
<rect x="794.8" y="275.4" width="3.9" height="3.9" fill="#5d4ca3"/>
<rect x="798.4" y="275.4" width="3.9" height="3.9" fill="#534ca3"/>
<rect x="802" y="275.4" width="3.9" height="3.9" fill="#4d4ca3"/>
<rect x="805.6" y="275.4" width="3.9" height="3.9" fill="#4a50a6"/>
<rect x="809.2" y="275.4" width="3.9" height="3.9" fill="#4454a9"/>
<rect x="812.8" y="275.4" width="3.9" height="3.9" fill="#3a55ab"/>
<rect x="816.4" y="275.4" width="3.9" height="3.9" fill="#3052ac"/>
<rect x="820" y="275.4" width="3.9" height="3.9" fill="#2d51ac"/>
<rect x="823.6" y="275.4" width="3.9" height="3.9" fill="#3054ad"/>
<rect x="827.2" y="275.4" width="3.9" height="3.9" fill="#3961b6"/>
<rect x="830.8" y="275.4" width="3.9" height="3.9" fill="#3e6fc3"/>
<rect x="834.4" y="275.4" width="3.9" height="3.9" fill="#3d71c8"/>
<rect x="838" y="275.4" width="3.9" height="3.9" fill="#3d71c8"/>
<rect x="841.6" y="275.4" width="3.9" height="3.9" fill="#4277c9"/>
<rect x="845.2" y="275.4" width="3.9" height="3.9" fill="#497fc8"/>
<rect x="784" y="279" width="3.9" height="3.9" fill="#6f42a1"/>
<rect x="787.6" y="279" width="3.9" height="3.9" fill="#6d43a1"/>
<rect x="791.2" y="279" width="3.9" height="3.9" fill="#6947a2"/>
<rect x="794.8" y="279" width="3.9" height="3.9" fill="#664ea5"/>
<rect x="798.4" y="279" width="3.9" height="3.9" fill="#6155a9"/>
<rect x="802" y="279" width="3.9" height="3.9" fill="#5a5aac"/>
<rect x="805.6" y="279" width="3.9" height="3.9" fill="#545eaf"/>
<rect x="809.2" y="279" width="3.9" height="3.9" fill="#4c5fb0"/>
<rect x="812.8" y="279" width="3.9" height="3.9" fill="#3e5aaf"/>
<rect x="816.4" y="279" width="3.9" height="3.9" fill="#3052ad"/>
<rect x="820" y="279" width="3.9" height="3.9" fill="#2c50ac"/>
<rect x="823.6" y="279" width="3.9" height="3.9" fill="#2e53ad"/>
<rect x="827.2" y="279" width="3.9" height="3.9" fill="#3a62b5"/>
<rect x="830.8" y="279" width="3.9" height="3.9" fill="#4375c3"/>
<rect x="834.4" y="279" width="3.9" height="3.9" fill="#457bca"/>
<rect x="838" y="279" width="3.9" height="3.9" fill="#4882ce"/>
<rect x="841.6" y="279" width="3.9" height="3.9" fill="#4e8bd1"/>
<rect x="845.2" y="279" width="3.9" height="3.9" fill="#528ed0"/>
<rect x="780.4" y="282.6" width="3.9" height="3.9" fill="#7043a1"/>
<rect x="784" y="282.6" width="3.9" height="3.9" fill="#7040a0"/>
<rect x="787.6" y="282.6" width="3.9" height="3.9" fill="#6b41a0"/>
<rect x="791.2" y="282.6" width="3.9" height="3.9" fill="#6544a2"/>
<rect x="794.8" y="282.6" width="3.9" height="3.9" fill="#694da6"/>
<rect x="798.4" y="282.6" width="3.9" height="3.9" fill="#695aad"/>
<rect x="802" y="282.6" width="3.9" height="3.9" fill="#6164b4"/>
<rect x="805.6" y="282.6" width="3.9" height="3.9" fill="#5967b8"/>
<rect x="809.2" y="282.6" width="3.9" height="3.9" fill="#5267b9"/>
<rect x="812.8" y="282.6" width="3.9" height="3.9" fill="#4963b5"/>
<rect x="816.4" y="282.6" width="3.9" height="3.9" fill="#3959b0"/>
<rect x="820" y="282.6" width="3.9" height="3.9" fill="#3255ae"/>
<rect x="823.6" y="282.6" width="3.9" height="3.9" fill="#365ab0"/>
<rect x="827.2" y="282.6" width="3.9" height="3.9" fill="#426db9"/>
<rect x="830.8" y="282.6" width="3.9" height="3.9" fill="#4e83c8"/>
<rect x="834.4" y="282.6" width="3.9" height="3.9" fill="#5494d5"/>
<rect x="838" y="282.6" width="3.9" height="3.9" fill="#579ddd"/>
<rect x="841.6" y="282.6" width="3.9" height="3.9" fill="#579ddc"/>
<rect x="845.2" y="282.6" width="3.9" height="3.9" fill="#589bd7"/>
<rect x="776.8" y="286.2" width="3.9" height="3.9" fill="#8049a1"/>
<rect x="780.4" y="286.2" width="3.9" height="3.9" fill="#7245a1"/>
<rect x="784" y="286.2" width="3.9" height="3.9" fill="#6b41a0"/>
<rect x="787.6" y="286.2" width="3.9" height="3.9" fill="#5c40a0"/>
<rect x="791.2" y="286.2" width="3.9" height="3.9" fill="#6042a1"/>
<rect x="794.8" y="286.2" width="3.9" height="3.9" fill="#6b4fa8"/>
<rect x="798.4" y="286.2" width="3.9" height="3.9" fill="#6e5fb1"/>
<rect x="802" y="286.2" width="3.9" height="3.9" fill="#626aba"/>
<rect x="805.6" y="286.2" width="3.9" height="3.9" fill="#536abe"/>
<rect x="809.2" y="286.2" width="3.9" height="3.9" fill="#506abf"/>
<rect x="812.8" y="286.2" width="3.9" height="3.9" fill="#516bbd"/>
<rect x="816.4" y="286.2" width="3.9" height="3.9" fill="#4d69b8"/>
<rect x="820" y="286.2" width="3.9" height="3.9" fill="#4667b5"/>
<rect x="823.6" y="286.2" width="3.9" height="3.9" fill="#486eb7"/>
<rect x="827.2" y="286.2" width="3.9" height="3.9" fill="#517ec0"/>
<rect x="830.8" y="286.2" width="3.9" height="3.9" fill="#5791cd"/>
<rect x="834.4" y="286.2" width="3.9" height="3.9" fill="#599dda"/>
<rect x="838" y="286.2" width="3.9" height="3.9" fill="#58a0e0"/>
<rect x="841.6" y="286.2" width="3.9" height="3.9" fill="#58a0df"/>
<rect x="845.2" y="286.2" width="3.9" height="3.9" fill="#5ba1d9"/>
<rect x="773.2" y="289.8" width="3.9" height="3.9" fill="#9b429b"/>
<rect x="776.8" y="289.8" width="3.9" height="3.9" fill="#8e489f"/>
<rect x="780.4" y="289.8" width="3.9" height="3.9" fill="#7b4aa2"/>
<rect x="784" y="289.8" width="3.9" height="3.9" fill="#6d47a3"/>
<rect x="787.6" y="289.8" width="3.9" height="3.9" fill="#6444a2"/>
<rect x="791.2" y="289.8" width="3.9" height="3.9" fill="#6a4aa6"/>
<rect x="794.8" y="289.8" width="3.9" height="3.9" fill="#7656ae"/>
<rect x="798.4" y="289.8" width="3.9" height="3.9" fill="#7765b6"/>
<rect x="802" y="289.8" width="3.9" height="3.9" fill="#646ebe"/>
<rect x="805.6" y="289.8" width="3.9" height="3.9" fill="#4f69c0"/>
<rect x="809.2" y="289.8" width="3.9" height="3.9" fill="#4c68c0"/>
<rect x="812.8" y="289.8" width="3.9" height="3.9" fill="#536dc0"/>
<rect x="816.4" y="289.8" width="3.9" height="3.9" fill="#5b76be"/>
<rect x="820" y="289.8" width="3.9" height="3.9" fill="#5c7cbc"/>
<rect x="823.6" y="289.8" width="3.9" height="3.9" fill="#5d84be"/>
<rect x="827.2" y="289.8" width="3.9" height="3.9" fill="#5f8fc4"/>
<rect x="830.8" y="289.8" width="3.9" height="3.9" fill="#5f9bce"/>
<rect x="834.4" y="289.8" width="3.9" height="3.9" fill="#5ea2d7"/>
<rect x="838" y="289.8" width="3.9" height="3.9" fill="#5ca4dc"/>
<rect x="841.6" y="289.8" width="3.9" height="3.9" fill="#5ea7db"/>
<rect x="845.2" y="289.8" width="3.9" height="3.9" fill="#62a9d6"/>
<rect x="848.8" y="289.8" width="3.9" height="3.9" fill="#64a8d0"/>
<rect x="769.6" y="293.4" width="3.9" height="3.9" fill="#a03a98"/>
<rect x="773.2" y="293.4" width="3.9" height="3.9" fill="#a03a99"/>
<rect x="776.8" y="293.4" width="3.9" height="3.9" fill="#9c439c"/>
<rect x="780.4" y="293.4" width="3.9" height="3.9" fill="#8e50a4"/>
<rect x="784" y="293.4" width="3.9" height="3.9" fill="#8053a8"/>
<rect x="787.6" y="293.4" width="3.9" height="3.9" fill="#7b54ac"/>
<rect x="791.2" y="293.4" width="3.9" height="3.9" fill="#7c53b0"/>
<rect x="794.8" y="293.4" width="3.9" height="3.9" fill="#7d55b1"/>
<rect x="798.4" y="293.4" width="3.9" height="3.9" fill="#8168b9"/>
<rect x="802" y="293.4" width="3.9" height="3.9" fill="#767bc4"/>
<rect x="805.6" y="293.4" width="3.9" height="3.9" fill="#5b72c3"/>
<rect x="809.2" y="293.4" width="3.9" height="3.9" fill="#536dc1"/>
<rect x="812.8" y="293.4" width="3.9" height="3.9" fill="#5d76c2"/>
<rect x="816.4" y="293.4" width="3.9" height="3.9" fill="#6984c3"/>
<rect x="820" y="293.4" width="3.9" height="3.9" fill="#6e8ec2"/>
<rect x="823.6" y="293.4" width="3.9" height="3.9" fill="#6d97c4"/>
<rect x="827.2" y="293.4" width="3.9" height="3.9" fill="#6b9ec7"/>
<rect x="830.8" y="293.4" width="3.9" height="3.9" fill="#68a4cc"/>
<rect x="834.4" y="293.4" width="3.9" height="3.9" fill="#66aad2"/>
<rect x="838" y="293.4" width="3.9" height="3.9" fill="#67b1d7"/>
<rect x="841.6" y="293.4" width="3.9" height="3.9" fill="#68b4d8"/>
<rect x="845.2" y="293.4" width="3.9" height="3.9" fill="#67b1d5"/>
<rect x="848.8" y="293.4" width="3.9" height="3.9" fill="#68aecc"/>
<rect x="766" y="297" width="3.9" height="3.9" fill="#a43d98"/>
<rect x="769.6" y="297" width="3.9" height="3.9" fill="#a03998"/>
<rect x="773.2" y="297" width="3.9" height="3.9" fill="#a03998"/>
<rect x="776.8" y="297" width="3.9" height="3.9" fill="#a2429c"/>
<rect x="780.4" y="297" width="3.9" height="3.9" fill="#9f56a5"/>
<rect x="784" y="297" width="3.9" height="3.9" fill="#9561ae"/>
<rect x="787.6" y="297" width="3.9" height="3.9" fill="#8a5eb3"/>
<rect x="791.2" y="297" width="3.9" height="3.9" fill="#7e53b1"/>
<rect x="794.8" y="297" width="3.9" height="3.9" fill="#7d52b1"/>
<rect x="798.4" y="297" width="3.9" height="3.9" fill="#8c73c0"/>
<rect x="802" y="297" width="3.9" height="3.9" fill="#949bd5"/>
<rect x="805.6" y="297" width="3.9" height="3.9" fill="#8d9ed7"/>
<rect x="809.2" y="297" width="3.9" height="3.9" fill="#7e93d0"/>
<rect x="812.8" y="297" width="3.9" height="3.9" fill="#7c92cb"/>
<rect x="816.4" y="297" width="3.9" height="3.9" fill="#7f99c9"/>
<rect x="820" y="297" width="3.9" height="3.9" fill="#7da1c8"/>
<rect x="823.6" y="297" width="3.9" height="3.9" fill="#77a7ca"/>
<rect x="827.2" y="297" width="3.9" height="3.9" fill="#73abcb"/>
<rect x="830.8" y="297" width="3.9" height="3.9" fill="#6fadcb"/>
<rect x="834.4" y="297" width="3.9" height="3.9" fill="#6bafcd"/>
<rect x="838" y="297" width="3.9" height="3.9" fill="#69b3d4"/>
<rect x="841.6" y="297" width="3.9" height="3.9" fill="#68b4d7"/>
<rect x="845.2" y="297" width="3.9" height="3.9" fill="#6ab3cf"/>
<rect x="848.8" y="297" width="3.9" height="3.9" fill="#6cb1c3"/>
<rect x="762.4" y="300.6" width="3.9" height="3.9" fill="#b63f8e"/>
<rect x="766" y="300.6" width="3.9" height="3.9" fill="#ab4196"/>
<rect x="769.6" y="300.6" width="3.9" height="3.9" fill="#a53e98"/>
<rect x="773.2" y="300.6" width="3.9" height="3.9" fill="#a53f99"/>
<rect x="776.8" y="300.6" width="3.9" height="3.9" fill="#ac4d9e"/>
<rect x="780.4" y="300.6" width="3.9" height="3.9" fill="#b05fa7"/>
<rect x="784" y="300.6" width="3.9" height="3.9" fill="#ac6eb3"/>
<rect x="787.6" y="300.6" width="3.9" height="3.9" fill="#a374bc"/>
<rect x="791.2" y="300.6" width="3.9" height="3.9" fill="#9a72bf"/>
<rect x="794.8" y="300.6" width="3.9" height="3.9" fill="#9e79c4"/>
<rect x="798.4" y="300.6" width="3.9" height="3.9" fill="#a496d2"/>
<rect x="802" y="300.6" width="3.9" height="3.9" fill="#a0b4e5"/>
<rect x="805.6" y="300.6" width="3.9" height="3.9" fill="#a0b7e7"/>
<rect x="809.2" y="300.6" width="3.9" height="3.9" fill="#9eb2df"/>
<rect x="812.8" y="300.6" width="3.9" height="3.9" fill="#9ab0d7"/>
<rect x="816.4" y="300.6" width="3.9" height="3.9" fill="#93b0d1"/>
<rect x="820" y="300.6" width="3.9" height="3.9" fill="#87b0ce"/>
<rect x="823.6" y="300.6" width="3.9" height="3.9" fill="#7ab3d1"/>
<rect x="827.2" y="300.6" width="3.9" height="3.9" fill="#74b5d4"/>
<rect x="830.8" y="300.6" width="3.9" height="3.9" fill="#72b4d1"/>
<rect x="834.4" y="300.6" width="3.9" height="3.9" fill="#71b3c6"/>
<rect x="838" y="300.6" width="3.9" height="3.9" fill="#6fb5bf"/>
<rect x="841.6" y="300.6" width="3.9" height="3.9" fill="#70b7b7"/>
<rect x="845.2" y="300.6" width="3.9" height="3.9" fill="#72b7af"/>
<rect x="848.8" y="300.6" width="3.9" height="3.9" fill="#72b6ad"/>
<rect x="758.8" y="304.2" width="3.9" height="3.9" fill="#c32f82"/>
<rect x="762.4" y="304.2" width="3.9" height="3.9" fill="#c03687"/>
<rect x="766" y="304.2" width="3.9" height="3.9" fill="#b94390"/>
<rect x="769.6" y="304.2" width="3.9" height="3.9" fill="#b54a97"/>
<rect x="773.2" y="304.2" width="3.9" height="3.9" fill="#b94f9b"/>
<rect x="776.8" y="304.2" width="3.9" height="3.9" fill="#c0559e"/>
<rect x="780.4" y="304.2" width="3.9" height="3.9" fill="#c35fa5"/>
<rect x="784" y="304.2" width="3.9" height="3.9" fill="#c276b4"/>
<rect x="787.6" y="304.2" width="3.9" height="3.9" fill="#c08dc7"/>
<rect x="791.2" y="304.2" width="3.9" height="3.9" fill="#c8a0d9"/>
<rect x="794.8" y="304.2" width="3.9" height="3.9" fill="#cda7de"/>
<rect x="798.4" y="304.2" width="3.9" height="3.9" fill="#bda9dc"/>
<rect x="802" y="304.2" width="3.9" height="3.9" fill="#a4b7e5"/>
<rect x="805.6" y="304.2" width="3.9" height="3.9" fill="#a2b9e7"/>
<rect x="809.2" y="304.2" width="3.9" height="3.9" fill="#aec4e5"/>
<rect x="812.8" y="304.2" width="3.9" height="3.9" fill="#b1c9e2"/>
<rect x="816.4" y="304.2" width="3.9" height="3.9" fill="#a4c3d8"/>
<rect x="820" y="304.2" width="3.9" height="3.9" fill="#8dbbd1"/>
<rect x="823.6" y="304.2" width="3.9" height="3.9" fill="#78b8d6"/>
<rect x="827.2" y="304.2" width="3.9" height="3.9" fill="#71b8db"/>
<rect x="830.8" y="304.2" width="3.9" height="3.9" fill="#71b8d9"/>
<rect x="834.4" y="304.2" width="3.9" height="3.9" fill="#74b7c4"/>
<rect x="838" y="304.2" width="3.9" height="3.9" fill="#76b9a7"/>
<rect x="841.6" y="304.2" width="3.9" height="3.9" fill="#78bc99"/>
<rect x="845.2" y="304.2" width="3.9" height="3.9" fill="#78bb99"/>
<rect x="848.8" y="304.2" width="3.9" height="3.9" fill="#77b99d"/>
<rect x="755.2" y="307.8" width="3.9" height="3.9" fill="#c42a80"/>
<rect x="758.8" y="307.8" width="3.9" height="3.9" fill="#c42980"/>
<rect x="762.4" y="307.8" width="3.9" height="3.9" fill="#c42f82"/>
<rect x="766" y="307.8" width="3.9" height="3.9" fill="#c2418b"/>
<rect x="769.6" y="307.8" width="3.9" height="3.9" fill="#c25095"/>
<rect x="773.2" y="307.8" width="3.9" height="3.9" fill="#c6529b"/>
<rect x="776.8" y="307.8" width="3.9" height="3.9" fill="#c84c9a"/>
<rect x="780.4" y="307.8" width="3.9" height="3.9" fill="#c9529d"/>
<rect x="784" y="307.8" width="3.9" height="3.9" fill="#d178b4"/>
<rect x="787.6" y="307.8" width="3.9" height="3.9" fill="#d295c9"/>
<rect x="791.2" y="307.8" width="3.9" height="3.9" fill="#d0a7db"/>
<rect x="794.8" y="307.8" width="3.9" height="3.9" fill="#d0a9e0"/>
<rect x="798.4" y="307.8" width="3.9" height="3.9" fill="#cdb4e0"/>
<rect x="802" y="307.8" width="3.9" height="3.9" fill="#bdc1e3"/>
<rect x="805.6" y="307.8" width="3.9" height="3.9" fill="#bacde8"/>
<rect x="809.2" y="307.8" width="3.9" height="3.9" fill="#c5e0f1"/>
<rect x="812.8" y="307.8" width="3.9" height="3.9" fill="#c2deee"/>
<rect x="816.4" y="307.8" width="3.9" height="3.9" fill="#afd0dc"/>
<rect x="820" y="307.8" width="3.9" height="3.9" fill="#96c4d1"/>
<rect x="823.6" y="307.8" width="3.9" height="3.9" fill="#7bbad5"/>
<rect x="827.2" y="307.8" width="3.9" height="3.9" fill="#71b8db"/>
<rect x="830.8" y="307.8" width="3.9" height="3.9" fill="#71b8d9"/>
<rect x="834.4" y="307.8" width="3.9" height="3.9" fill="#76b8c1"/>
<rect x="838" y="307.8" width="3.9" height="3.9" fill="#78baa0"/>
<rect x="841.6" y="307.8" width="3.9" height="3.9" fill="#78bc98"/>
<rect x="845.2" y="307.8" width="3.9" height="3.9" fill="#78bc98"/>
<rect x="848.8" y="307.8" width="3.9" height="3.9" fill="#78ba95"/>
<rect x="748" y="311.4" width="3.9" height="3.9" fill="#c73779"/>
<rect x="751.6" y="311.4" width="3.9" height="3.9" fill="#c5307e"/>
<rect x="755.2" y="311.4" width="3.9" height="3.9" fill="#c42a80"/>
<rect x="758.8" y="311.4" width="3.9" height="3.9" fill="#c42980"/>
<rect x="762.4" y="311.4" width="3.9" height="3.9" fill="#c53081"/>
<rect x="766" y="311.4" width="3.9" height="3.9" fill="#c84187"/>
<rect x="769.6" y="311.4" width="3.9" height="3.9" fill="#c95292"/>
<rect x="773.2" y="311.4" width="3.9" height="3.9" fill="#ca539a"/>
<rect x="776.8" y="311.4" width="3.9" height="3.9" fill="#c84a99"/>
<rect x="780.4" y="311.4" width="3.9" height="3.9" fill="#cb529e"/>
<rect x="784" y="311.4" width="3.9" height="3.9" fill="#e289c2"/>
<rect x="787.6" y="311.4" width="3.9" height="3.9" fill="#e394c8"/>
<rect x="791.2" y="311.4" width="3.9" height="3.9" fill="#dcafd6"/>
<rect x="794.8" y="311.4" width="3.9" height="3.9" fill="#e1c8e4"/>
<rect x="798.4" y="311.4" width="3.9" height="3.9" fill="#ebe2ef"/>
<rect x="802" y="311.4" width="3.9" height="3.9" fill="#dedeeb"/>
<rect x="805.6" y="311.4" width="3.9" height="3.9" fill="#c9dbea"/>
<rect x="809.2" y="311.4" width="3.9" height="3.9" fill="#c8e3f3"/>
<rect x="812.8" y="311.4" width="3.9" height="3.9" fill="#c4e0ef"/>
<rect x="816.4" y="311.4" width="3.9" height="3.9" fill="#acd2d4"/>
<rect x="820" y="311.4" width="3.9" height="3.9" fill="#9fccca"/>
<rect x="823.6" y="311.4" width="3.9" height="3.9" fill="#8dc2cb"/>
<rect x="827.2" y="311.4" width="3.9" height="3.9" fill="#7bbad0"/>
<rect x="830.8" y="311.4" width="3.9" height="3.9" fill="#78b9ca"/>
<rect x="834.4" y="311.4" width="3.9" height="3.9" fill="#7bb8b0"/>
<rect x="838" y="311.4" width="3.9" height="3.9" fill="#7bb996"/>
<rect x="841.6" y="311.4" width="3.9" height="3.9" fill="#7aba8d"/>
<rect x="845.2" y="311.4" width="3.9" height="3.9" fill="#7bba87"/>
<rect x="848.8" y="311.4" width="3.9" height="3.9" fill="#7bb881"/>
<rect x="744.4" y="315" width="3.9" height="3.9" fill="#cb3369"/>
<rect x="748" y="315" width="3.9" height="3.9" fill="#ca3672"/>
<rect x="751.6" y="315" width="3.9" height="3.9" fill="#c8357a"/>
<rect x="755.2" y="315" width="3.9" height="3.9" fill="#c7317e"/>
<rect x="758.8" y="315" width="3.9" height="3.9" fill="#c8307e"/>
<rect x="762.4" y="315" width="3.9" height="3.9" fill="#ca337c"/>
<rect x="766" y="315" width="3.9" height="3.9" fill="#cc3c80"/>
<rect x="769.6" y="315" width="3.9" height="3.9" fill="#ce518c"/>
<rect x="773.2" y="315" width="3.9" height="3.9" fill="#cf609a"/>
<rect x="776.8" y="315" width="3.9" height="3.9" fill="#d061a1"/>
<rect x="780.4" y="315" width="3.9" height="3.9" fill="#da79b2"/>
<rect x="784" y="315" width="3.9" height="3.9" fill="#e790c7"/>
<rect x="787.6" y="315" width="3.9" height="3.9" fill="#e794c8"/>
<rect x="791.2" y="315" width="3.9" height="3.9" fill="#ebc3d8"/>
<rect x="794.8" y="315" width="3.9" height="3.9" fill="#f7eff2"/>
<rect x="798.4" y="315" width="3.9" height="3.9" fill="#ffffff"/>
<rect x="802" y="315" width="3.9" height="3.9" fill="#f4f4f5"/>
<rect x="805.6" y="315" width="3.9" height="3.9" fill="#d4e0e4"/>
<rect x="809.2" y="315" width="3.9" height="3.9" fill="#c5dde4"/>
<rect x="812.8" y="315" width="3.9" height="3.9" fill="#b5d7d9"/>
<rect x="816.4" y="315" width="3.9" height="3.9" fill="#a1d0c9"/>
<rect x="820" y="315" width="3.9" height="3.9" fill="#a0d0c8"/>
<rect x="823.6" y="315" width="3.9" height="3.9" fill="#9bcac3"/>
<rect x="827.2" y="315" width="3.9" height="3.9" fill="#8cc0b9"/>
<rect x="830.8" y="315" width="3.9" height="3.9" fill="#84bbab"/>
<rect x="834.4" y="315" width="3.9" height="3.9" fill="#81b994"/>
<rect x="838" y="315" width="3.9" height="3.9" fill="#7fb87a"/>
<rect x="841.6" y="315" width="3.9" height="3.9" fill="#7fb864"/>
<rect x="845.2" y="315" width="3.9" height="3.9" fill="#7fb85b"/>
<rect x="848.8" y="315" width="3.9" height="3.9" fill="#7fb860"/>
<rect x="740.8" y="318.6" width="3.9" height="3.9" fill="#cc235c"/>
<rect x="744.4" y="318.6" width="3.9" height="3.9" fill="#cc2860"/>
<rect x="748" y="318.6" width="3.9" height="3.9" fill="#cc3369"/>
<rect x="751.6" y="318.6" width="3.9" height="3.9" fill="#cc3a73"/>
<rect x="755.2" y="318.6" width="3.9" height="3.9" fill="#cc3879"/>
<rect x="758.8" y="318.6" width="3.9" height="3.9" fill="#cc3279"/>
<rect x="762.4" y="318.6" width="3.9" height="3.9" fill="#cc2d78"/>
<rect x="766" y="318.6" width="3.9" height="3.9" fill="#cd317a"/>
<rect x="769.6" y="318.6" width="3.9" height="3.9" fill="#d24f85"/>
<rect x="773.2" y="318.6" width="3.9" height="3.9" fill="#d86f95"/>
<rect x="776.8" y="318.6" width="3.9" height="3.9" fill="#dc81a4"/>
<rect x="780.4" y="318.6" width="3.9" height="3.9" fill="#e495b4"/>
<rect x="784" y="318.6" width="3.9" height="3.9" fill="#e99fbf"/>
<rect x="787.6" y="318.6" width="3.9" height="3.9" fill="#eaacc7"/>
<rect x="791.2" y="318.6" width="3.9" height="3.9" fill="#f5dfe0"/>
<rect x="794.8" y="318.6" width="3.9" height="3.9" fill="#fef7ef"/>
<rect x="798.4" y="318.6" width="3.9" height="3.9" fill="#fcf8f5"/>
<rect x="802" y="318.6" width="3.9" height="3.9" fill="#f1f1ea"/>
<rect x="805.6" y="318.6" width="3.9" height="3.9" fill="#d8e2d1"/>
<rect x="809.2" y="318.6" width="3.9" height="3.9" fill="#c6dac9"/>
<rect x="812.8" y="318.6" width="3.9" height="3.9" fill="#b1d3c7"/>
<rect x="816.4" y="318.6" width="3.9" height="3.9" fill="#a2d0c7"/>
<rect x="820" y="318.6" width="3.9" height="3.9" fill="#a0cfc6"/>
<rect x="823.6" y="318.6" width="3.9" height="3.9" fill="#9dcbba"/>
<rect x="827.2" y="318.6" width="3.9" height="3.9" fill="#93c2a0"/>
<rect x="830.8" y="318.6" width="3.9" height="3.9" fill="#8abc87"/>
<rect x="834.4" y="318.6" width="3.9" height="3.9" fill="#85b974"/>
<rect x="838" y="318.6" width="3.9" height="3.9" fill="#82b863"/>
<rect x="841.6" y="318.6" width="3.9" height="3.9" fill="#80b853"/>
<rect x="845.2" y="318.6" width="3.9" height="3.9" fill="#80b850"/>
<rect x="848.8" y="318.6" width="3.9" height="3.9" fill="#80b854"/>
<rect x="737.2" y="322.2" width="3.9" height="3.9" fill="#cc1c58"/>
<rect x="740.8" y="322.2" width="3.9" height="3.9" fill="#cc1a58"/>
<rect x="744.4" y="322.2" width="3.9" height="3.9" fill="#cd1e5a"/>
<rect x="748" y="322.2" width="3.9" height="3.9" fill="#ce2d61"/>
<rect x="751.6" y="322.2" width="3.9" height="3.9" fill="#d03d6c"/>
<rect x="755.2" y="322.2" width="3.9" height="3.9" fill="#d03f74"/>
<rect x="758.8" y="322.2" width="3.9" height="3.9" fill="#ce3578"/>
<rect x="762.4" y="322.2" width="3.9" height="3.9" fill="#cc2e78"/>
<rect x="766" y="322.2" width="3.9" height="3.9" fill="#ce357a"/>
<rect x="769.6" y="322.2" width="3.9" height="3.9" fill="#d95e84"/>
<rect x="773.2" y="322.2" width="3.9" height="3.9" fill="#e17b8e"/>
<rect x="776.8" y="322.2" width="3.9" height="3.9" fill="#e5909e"/>
<rect x="780.4" y="322.2" width="3.9" height="3.9" fill="#eeadb3"/>
<rect x="784" y="322.2" width="3.9" height="3.9" fill="#f3b7b8"/>
<rect x="787.6" y="322.2" width="3.9" height="3.9" fill="#f1bcbd"/>
<rect x="791.2" y="322.2" width="3.9" height="3.9" fill="#f6e2d9"/>
<rect x="794.8" y="322.2" width="3.9" height="3.9" fill="#fdf6ed"/>
<rect x="798.4" y="322.2" width="3.9" height="3.9" fill="#f7f1e5"/>
<rect x="802" y="322.2" width="3.9" height="3.9" fill="#e2e8c9"/>
<rect x="805.6" y="322.2" width="3.9" height="3.9" fill="#d2e5b1"/>
<rect x="809.2" y="322.2" width="3.9" height="3.9" fill="#cbe1b0"/>
<rect x="812.8" y="322.2" width="3.9" height="3.9" fill="#bad7b4"/>
<rect x="816.4" y="322.2" width="3.9" height="3.9" fill="#aad0b9"/>
<rect x="820" y="322.2" width="3.9" height="3.9" fill="#a3ccb5"/>
<rect x="823.6" y="322.2" width="3.9" height="3.9" fill="#9bc6a0"/>
<rect x="827.2" y="322.2" width="3.9" height="3.9" fill="#90bf7d"/>
<rect x="830.8" y="322.2" width="3.9" height="3.9" fill="#88ba61"/>
<rect x="834.4" y="322.2" width="3.9" height="3.9" fill="#85b958"/>
<rect x="838" y="322.2" width="3.9" height="3.9" fill="#83b859"/>
<rect x="841.6" y="322.2" width="3.9" height="3.9" fill="#81b853"/>
<rect x="845.2" y="322.2" width="3.9" height="3.9" fill="#80b851"/>
<rect x="848.8" y="322.2" width="3.9" height="3.9" fill="#80b853"/>
<rect x="733.6" y="325.8" width="3.9" height="3.9" fill="#cd2054"/>
<rect x="737.2" y="325.8" width="3.9" height="3.9" fill="#cc1a58"/>
<rect x="740.8" y="325.8" width="3.9" height="3.9" fill="#cc1858"/>
<rect x="744.4" y="325.8" width="3.9" height="3.9" fill="#cc1b58"/>
<rect x="748" y="325.8" width="3.9" height="3.9" fill="#cf2b5d"/>
<rect x="751.6" y="325.8" width="3.9" height="3.9" fill="#d44267"/>
<rect x="755.2" y="325.8" width="3.9" height="3.9" fill="#d64b6e"/>
<rect x="758.8" y="325.8" width="3.9" height="3.9" fill="#d44773"/>
<rect x="762.4" y="325.8" width="3.9" height="3.9" fill="#d24377"/>
<rect x="766" y="325.8" width="3.9" height="3.9" fill="#d7547d"/>
<rect x="769.6" y="325.8" width="3.9" height="3.9" fill="#e37886"/>
<rect x="773.2" y="325.8" width="3.9" height="3.9" fill="#e78088"/>
<rect x="776.8" y="325.8" width="3.9" height="3.9" fill="#e88a91"/>
<rect x="780.4" y="325.8" width="3.9" height="3.9" fill="#efaeaf"/>
<rect x="784" y="325.8" width="3.9" height="3.9" fill="#f4b8b8"/>
<rect x="787.6" y="325.8" width="3.9" height="3.9" fill="#f2c0b8"/>
<rect x="791.2" y="325.8" width="3.9" height="3.9" fill="#f4e0bc"/>
<rect x="794.8" y="325.8" width="3.9" height="3.9" fill="#f4eac4"/>
<rect x="798.4" y="325.8" width="3.9" height="3.9" fill="#ebe8c5"/>
<rect x="802" y="325.8" width="3.9" height="3.9" fill="#d6e6b0"/>
<rect x="805.6" y="325.8" width="3.9" height="3.9" fill="#d0e8a8"/>
<rect x="809.2" y="325.8" width="3.9" height="3.9" fill="#cee6a7"/>
<rect x="812.8" y="325.8" width="3.9" height="3.9" fill="#c0daa1"/>
<rect x="816.4" y="325.8" width="3.9" height="3.9" fill="#afcf9c"/>
<rect x="820" y="325.8" width="3.9" height="3.9" fill="#a3c892"/>
<rect x="823.6" y="325.8" width="3.9" height="3.9" fill="#97c27c"/>
<rect x="827.2" y="325.8" width="3.9" height="3.9" fill="#8bbb5e"/>
<rect x="830.8" y="325.8" width="3.9" height="3.9" fill="#85b84c"/>
<rect x="834.4" y="325.8" width="3.9" height="3.9" fill="#84b84a"/>
<rect x="838" y="325.8" width="3.9" height="3.9" fill="#84b84f"/>
<rect x="841.6" y="325.8" width="3.9" height="3.9" fill="#82b752"/>
<rect x="845.2" y="325.8" width="3.9" height="3.9" fill="#81b751"/>
<rect x="848.8" y="325.8" width="3.9" height="3.9" fill="#80b750"/>
<rect x="730" y="329.4" width="3.9" height="3.9" fill="#cf2444"/>
<rect x="733.6" y="329.4" width="3.9" height="3.9" fill="#cf224e"/>
<rect x="737.2" y="329.4" width="3.9" height="3.9" fill="#cd1c55"/>
<rect x="740.8" y="329.4" width="3.9" height="3.9" fill="#cc1a57"/>
<rect x="744.4" y="329.4" width="3.9" height="3.9" fill="#cd1f58"/>
<rect x="748" y="329.4" width="3.9" height="3.9" fill="#d2335b"/>
<rect x="751.6" y="329.4" width="3.9" height="3.9" fill="#d84c64"/>
<rect x="755.2" y="329.4" width="3.9" height="3.9" fill="#dd5568"/>
<rect x="758.8" y="329.4" width="3.9" height="3.9" fill="#de576a"/>
<rect x="762.4" y="329.4" width="3.9" height="3.9" fill="#dc5b6f"/>
<rect x="766" y="329.4" width="3.9" height="3.9" fill="#df6b7a"/>
<rect x="769.6" y="329.4" width="3.9" height="3.9" fill="#e67e86"/>
<rect x="773.2" y="329.4" width="3.9" height="3.9" fill="#e88088"/>
<rect x="776.8" y="329.4" width="3.9" height="3.9" fill="#e8878b"/>
<rect x="780.4" y="329.4" width="3.9" height="3.9" fill="#eba69f"/>
<rect x="784" y="329.4" width="3.9" height="3.9" fill="#efbaad"/>
<rect x="787.6" y="329.4" width="3.9" height="3.9" fill="#f1d2ae"/>
<rect x="791.2" y="329.4" width="3.9" height="3.9" fill="#f7edb0"/>
<rect x="794.8" y="329.4" width="3.9" height="3.9" fill="#f7efb0"/>
<rect x="798.4" y="329.4" width="3.9" height="3.9" fill="#ebe6b0"/>
<rect x="802" y="329.4" width="3.9" height="3.9" fill="#d4e2a7"/>
<rect x="805.6" y="329.4" width="3.9" height="3.9" fill="#cee5a4"/>
<rect x="809.2" y="329.4" width="3.9" height="3.9" fill="#c6df99"/>
<rect x="812.8" y="329.4" width="3.9" height="3.9" fill="#b7d486"/>
<rect x="816.4" y="329.4" width="3.9" height="3.9" fill="#aacc7c"/>
<rect x="820" y="329.4" width="3.9" height="3.9" fill="#9dc46e"/>
<rect x="823.6" y="329.4" width="3.9" height="3.9" fill="#93bf5f"/>
<rect x="827.2" y="329.4" width="3.9" height="3.9" fill="#8aba53"/>
<rect x="830.8" y="329.4" width="3.9" height="3.9" fill="#85b849"/>
<rect x="834.4" y="329.4" width="3.9" height="3.9" fill="#84b848"/>
<rect x="838" y="329.4" width="3.9" height="3.9" fill="#84b84b"/>
<rect x="841.6" y="329.4" width="3.9" height="3.9" fill="#82b648"/>
<rect x="845.2" y="329.4" width="3.9" height="3.9" fill="#7fb541"/>
<rect x="848.8" y="329.4" width="3.9" height="3.9" fill="#7fb540"/>
<rect x="726.4" y="333" width="3.9" height="3.9" fill="#ce1b34"/>
<rect x="730" y="333" width="3.9" height="3.9" fill="#cf2038"/>
<rect x="733.6" y="333" width="3.9" height="3.9" fill="#d12541"/>
<rect x="737.2" y="333" width="3.9" height="3.9" fill="#d12649"/>
<rect x="740.8" y="333" width="3.9" height="3.9" fill="#d1264f"/>
<rect x="744.4" y="333" width="3.9" height="3.9" fill="#d22d52"/>
<rect x="748" y="333" width="3.9" height="3.9" fill="#d64058"/>
<rect x="751.6" y="333" width="3.9" height="3.9" fill="#dc5362"/>
<rect x="755.2" y="333" width="3.9" height="3.9" fill="#df5867"/>
<rect x="758.8" y="333" width="3.9" height="3.9" fill="#e05868"/>
<rect x="762.4" y="333" width="3.9" height="3.9" fill="#e05d68"/>
<rect x="766" y="333" width="3.9" height="3.9" fill="#e1706f"/>
<rect x="769.6" y="333" width="3.9" height="3.9" fill="#e5807c"/>
<rect x="773.2" y="333" width="3.9" height="3.9" fill="#e68583"/>
<rect x="776.8" y="333" width="3.9" height="3.9" fill="#e79087"/>
<rect x="780.4" y="333" width="3.9" height="3.9" fill="#e8ab8f"/>
<rect x="784" y="333" width="3.9" height="3.9" fill="#ebc494"/>
<rect x="787.6" y="333" width="3.9" height="3.9" fill="#efd89b"/>
<rect x="791.2" y="333" width="3.9" height="3.9" fill="#f5eaaa"/>
<rect x="794.8" y="333" width="3.9" height="3.9" fill="#f5ecad"/>
<rect x="798.4" y="333" width="3.9" height="3.9" fill="#e7e3a5"/>
<rect x="802" y="333" width="3.9" height="3.9" fill="#cedb95"/>
<rect x="805.6" y="333" width="3.9" height="3.9" fill="#b9d57d"/>
<rect x="809.2" y="333" width="3.9" height="3.9" fill="#a9ce63"/>
<rect x="812.8" y="333" width="3.9" height="3.9" fill="#a8cd62"/>
<rect x="816.4" y="333" width="3.9" height="3.9" fill="#a2c862"/>
<rect x="820" y="333" width="3.9" height="3.9" fill="#93c04f"/>
<rect x="823.6" y="333" width="3.9" height="3.9" fill="#8cbd45"/>
<rect x="827.2" y="333" width="3.9" height="3.9" fill="#8abb49"/>
<rect x="830.8" y="333" width="3.9" height="3.9" fill="#87b94b"/>
<rect x="834.4" y="333" width="3.9" height="3.9" fill="#85b84a"/>
<rect x="838" y="333" width="3.9" height="3.9" fill="#84b747"/>
<rect x="841.6" y="333" width="3.9" height="3.9" fill="#7fb53a"/>
<rect x="845.2" y="333" width="3.9" height="3.9" fill="#7db432"/>
<rect x="848.8" y="333" width="3.9" height="3.9" fill="#7db433"/>
<rect x="722.8" y="336.6" width="3.9" height="3.9" fill="#cd1630"/>
<rect x="726.4" y="336.6" width="3.9" height="3.9" fill="#cd1630"/>
<rect x="730" y="336.6" width="3.9" height="3.9" fill="#ce1a32"/>
<rect x="733.6" y="336.6" width="3.9" height="3.9" fill="#d42635"/>
<rect x="737.2" y="336.6" width="3.9" height="3.9" fill="#d72d38"/>
<rect x="740.8" y="336.6" width="3.9" height="3.9" fill="#d8303c"/>
<rect x="744.4" y="336.6" width="3.9" height="3.9" fill="#d73844"/>
<rect x="748" y="336.6" width="3.9" height="3.9" fill="#d94750"/>
<rect x="751.6" y="336.6" width="3.9" height="3.9" fill="#dd555e"/>
<rect x="755.2" y="336.6" width="3.9" height="3.9" fill="#e05966"/>
<rect x="758.8" y="336.6" width="3.9" height="3.9" fill="#e05967"/>
<rect x="762.4" y="336.6" width="3.9" height="3.9" fill="#e16263"/>
<rect x="766" y="336.6" width="3.9" height="3.9" fill="#e47a5b"/>
<rect x="769.6" y="336.6" width="3.9" height="3.9" fill="#e6885e"/>
<rect x="773.2" y="336.6" width="3.9" height="3.9" fill="#e6906b"/>
<rect x="776.8" y="336.6" width="3.9" height="3.9" fill="#e69f75"/>
<rect x="780.4" y="336.6" width="3.9" height="3.9" fill="#e8b97c"/>
<rect x="784" y="336.6" width="3.9" height="3.9" fill="#ecd27b"/>
<rect x="787.6" y="336.6" width="3.9" height="3.9" fill="#eedd77"/>
<rect x="791.2" y="336.6" width="3.9" height="3.9" fill="#eede82"/>
<rect x="794.8" y="336.6" width="3.9" height="3.9" fill="#eadf93"/>
<rect x="798.4" y="336.6" width="3.9" height="3.9" fill="#dcda92"/>
<rect x="802" y="336.6" width="3.9" height="3.9" fill="#c4d380"/>
<rect x="805.6" y="336.6" width="3.9" height="3.9" fill="#acce65"/>
<rect x="809.2" y="336.6" width="3.9" height="3.9" fill="#a4cc58"/>
<rect x="812.8" y="336.6" width="3.9" height="3.9" fill="#a4cc59"/>
<rect x="816.4" y="336.6" width="3.9" height="3.9" fill="#9dc655"/>
<rect x="820" y="336.6" width="3.9" height="3.9" fill="#8bbd3e"/>
<rect x="823.6" y="336.6" width="3.9" height="3.9" fill="#88bc39"/>
<rect x="827.2" y="336.6" width="3.9" height="3.9" fill="#89bc3d"/>
<rect x="830.8" y="336.6" width="3.9" height="3.9" fill="#89ba46"/>
<rect x="834.4" y="336.6" width="3.9" height="3.9" fill="#87b848"/>
<rect x="838" y="336.6" width="3.9" height="3.9" fill="#83b641"/>
<rect x="841.6" y="336.6" width="3.9" height="3.9" fill="#7db434"/>
<rect x="845.2" y="336.6" width="3.9" height="3.9" fill="#7cb430"/>
<rect x="848.8" y="336.6" width="3.9" height="3.9" fill="#7cb431"/>
<rect x="719.2" y="340.2" width="3.9" height="3.9" fill="#cd182e"/>
<rect x="722.8" y="340.2" width="3.9" height="3.9" fill="#cc1530"/>
<rect x="726.4" y="340.2" width="3.9" height="3.9" fill="#cc1430"/>
<rect x="730" y="340.2" width="3.9" height="3.9" fill="#ce1830"/>
<rect x="733.6" y="340.2" width="3.9" height="3.9" fill="#d72931"/>
<rect x="737.2" y="340.2" width="3.9" height="3.9" fill="#db3031"/>
<rect x="740.8" y="340.2" width="3.9" height="3.9" fill="#db3132"/>
<rect x="744.4" y="340.2" width="3.9" height="3.9" fill="#db3737"/>
<rect x="748" y="340.2" width="3.9" height="3.9" fill="#db4743"/>
<rect x="751.6" y="340.2" width="3.9" height="3.9" fill="#de5652"/>
<rect x="755.2" y="340.2" width="3.9" height="3.9" fill="#e05f5c"/>
<rect x="758.8" y="340.2" width="3.9" height="3.9" fill="#e1655d"/>
<rect x="762.4" y="340.2" width="3.9" height="3.9" fill="#e57851"/>
<rect x="766" y="340.2" width="3.9" height="3.9" fill="#ea8b41"/>
<rect x="769.6" y="340.2" width="3.9" height="3.9" fill="#ea9040"/>
<rect x="773.2" y="340.2" width="3.9" height="3.9" fill="#e8964d"/>
<rect x="776.8" y="340.2" width="3.9" height="3.9" fill="#e7a85f"/>
<rect x="780.4" y="340.2" width="3.9" height="3.9" fill="#e8c26c"/>
<rect x="784" y="340.2" width="3.9" height="3.9" fill="#edd971"/>
<rect x="787.6" y="340.2" width="3.9" height="3.9" fill="#f0e070"/>
<rect x="791.2" y="340.2" width="3.9" height="3.9" fill="#eede72"/>
<rect x="794.8" y="340.2" width="3.9" height="3.9" fill="#e4d97a"/>
<rect x="798.4" y="340.2" width="3.9" height="3.9" fill="#d3d37c"/>
<rect x="802" y="340.2" width="3.9" height="3.9" fill="#bfcf72"/>
<rect x="805.6" y="340.2" width="3.9" height="3.9" fill="#adcc63"/>
<rect x="809.2" y="340.2" width="3.9" height="3.9" fill="#a6cb5b"/>
<rect x="812.8" y="340.2" width="3.9" height="3.9" fill="#a4ca5a"/>
<rect x="816.4" y="340.2" width="3.9" height="3.9" fill="#99c34f"/>
<rect x="820" y="340.2" width="3.9" height="3.9" fill="#8bbd3d"/>
<rect x="823.6" y="340.2" width="3.9" height="3.9" fill="#88bc39"/>
<rect x="827.2" y="340.2" width="3.9" height="3.9" fill="#89bc3c"/>
<rect x="830.8" y="340.2" width="3.9" height="3.9" fill="#89ba42"/>
<rect x="834.4" y="340.2" width="3.9" height="3.9" fill="#87b844"/>
<rect x="838" y="340.2" width="3.9" height="3.9" fill="#83b63e"/>
<rect x="841.6" y="340.2" width="3.9" height="3.9" fill="#7eb435"/>
<rect x="845.2" y="340.2" width="3.9" height="3.9" fill="#7db432"/>
<rect x="848.8" y="340.2" width="3.9" height="3.9" fill="#7db432"/>
<rect x="715.6" y="343.8" width="3.9" height="3.9" fill="#ce1a22"/>
<rect x="719.2" y="343.8" width="3.9" height="3.9" fill="#ce1929"/>
<rect x="722.8" y="343.8" width="3.9" height="3.9" fill="#cd172e"/>
<rect x="726.4" y="343.8" width="3.9" height="3.9" fill="#cd162f"/>
<rect x="730" y="343.8" width="3.9" height="3.9" fill="#d01c2e"/>
<rect x="733.6" y="343.8" width="3.9" height="3.9" fill="#d92c2f"/>
<rect x="737.2" y="343.8" width="3.9" height="3.9" fill="#dc3030"/>
<rect x="740.8" y="343.8" width="3.9" height="3.9" fill="#dc3030"/>
<rect x="744.4" y="343.8" width="3.9" height="3.9" fill="#dc3731"/>
<rect x="748" y="343.8" width="3.9" height="3.9" fill="#dd4536"/>
<rect x="751.6" y="343.8" width="3.9" height="3.9" fill="#df5640"/>
<rect x="755.2" y="343.8" width="3.9" height="3.9" fill="#e16749"/>
<rect x="758.8" y="343.8" width="3.9" height="3.9" fill="#e57748"/>
<rect x="762.4" y="343.8" width="3.9" height="3.9" fill="#e98740"/>
<rect x="766" y="343.8" width="3.9" height="3.9" fill="#ec9039"/>
<rect x="769.6" y="343.8" width="3.9" height="3.9" fill="#ec9038"/>
<rect x="773.2" y="343.8" width="3.9" height="3.9" fill="#ea9940"/>
<rect x="776.8" y="343.8" width="3.9" height="3.9" fill="#e8ae4f"/>
<rect x="780.4" y="343.8" width="3.9" height="3.9" fill="#e7c45c"/>
<rect x="784" y="343.8" width="3.9" height="3.9" fill="#e9d568"/>
<rect x="787.6" y="343.8" width="3.9" height="3.9" fill="#ecdc6e"/>
<rect x="791.2" y="343.8" width="3.9" height="3.9" fill="#e7da6c"/>
<rect x="794.8" y="343.8" width="3.9" height="3.9" fill="#d9d469"/>
<rect x="798.4" y="343.8" width="3.9" height="3.9" fill="#cace67"/>
<rect x="802" y="343.8" width="3.9" height="3.9" fill="#b9ca62"/>
<rect x="805.6" y="343.8" width="3.9" height="3.9" fill="#abc85a"/>
<rect x="809.2" y="343.8" width="3.9" height="3.9" fill="#a4c755"/>
<rect x="812.8" y="343.8" width="3.9" height="3.9" fill="#a0c553"/>
<rect x="816.4" y="343.8" width="3.9" height="3.9" fill="#98c14c"/>
<rect x="820" y="343.8" width="3.9" height="3.9" fill="#8ebd41"/>
<rect x="823.6" y="343.8" width="3.9" height="3.9" fill="#8abc3c"/>
<rect x="827.2" y="343.8" width="3.9" height="3.9" fill="#89ba3c"/>
<rect x="830.8" y="343.8" width="3.9" height="3.9" fill="#87b93c"/>
<rect x="834.4" y="343.8" width="3.9" height="3.9" fill="#86b73d"/>
<rect x="838" y="343.8" width="3.9" height="3.9" fill="#82b53a"/>
<rect x="841.6" y="343.8" width="3.9" height="3.9" fill="#7fb435"/>
<rect x="845.2" y="343.8" width="3.9" height="3.9" fill="#7db332"/>
<rect x="848.8" y="343.8" width="3.9" height="3.9" fill="#7db331"/>
<rect x="712" y="347.4" width="3.9" height="3.9" fill="#cd1415"/>
<rect x="715.6" y="347.4" width="3.9" height="3.9" fill="#cd1618"/>
<rect x="719.2" y="347.4" width="3.9" height="3.9" fill="#cf1920"/>
<rect x="722.8" y="347.4" width="3.9" height="3.9" fill="#d01b24"/>
<rect x="726.4" y="347.4" width="3.9" height="3.9" fill="#d11c22"/>
<rect x="730" y="347.4" width="3.9" height="3.9" fill="#d32022"/>
<rect x="733.6" y="347.4" width="3.9" height="3.9" fill="#d82a29"/>
<rect x="737.2" y="347.4" width="3.9" height="3.9" fill="#db302e"/>
<rect x="740.8" y="347.4" width="3.9" height="3.9" fill="#dc332d"/>
<rect x="744.4" y="347.4" width="3.9" height="3.9" fill="#de3b26"/>
<rect x="748" y="347.4" width="3.9" height="3.9" fill="#df4225"/>
<rect x="751.6" y="347.4" width="3.9" height="3.9" fill="#e0512f"/>
<rect x="755.2" y="347.4" width="3.9" height="3.9" fill="#e46a38"/>
<rect x="758.8" y="347.4" width="3.9" height="3.9" fill="#e87e38"/>
<rect x="762.4" y="347.4" width="3.9" height="3.9" fill="#eb8836"/>
<rect x="766" y="347.4" width="3.9" height="3.9" fill="#ec9038"/>
<rect x="769.6" y="347.4" width="3.9" height="3.9" fill="#ec9439"/>
<rect x="773.2" y="347.4" width="3.9" height="3.9" fill="#eba83d"/>
<rect x="776.8" y="347.4" width="3.9" height="3.9" fill="#eabb43"/>
<rect x="780.4" y="347.4" width="3.9" height="3.9" fill="#e7cc49"/>
<rect x="784" y="347.4" width="3.9" height="3.9" fill="#e3d350"/>
<rect x="787.6" y="347.4" width="3.9" height="3.9" fill="#dcd356"/>
<rect x="791.2" y="347.4" width="3.9" height="3.9" fill="#cdd051"/>
<rect x="794.8" y="347.4" width="3.9" height="3.9" fill="#c4cd4d"/>
<rect x="798.4" y="347.4" width="3.9" height="3.9" fill="#bdca51"/>
<rect x="802" y="347.4" width="3.9" height="3.9" fill="#afc64e"/>
<rect x="805.6" y="347.4" width="3.9" height="3.9" fill="#9ec142"/>
<rect x="809.2" y="347.4" width="3.9" height="3.9" fill="#96bf3c"/>
<rect x="812.8" y="347.4" width="3.9" height="3.9" fill="#96bf3f"/>
<rect x="816.4" y="347.4" width="3.9" height="3.9" fill="#95be43"/>
<rect x="820" y="347.4" width="3.9" height="3.9" fill="#8ebb3e"/>
<rect x="823.6" y="347.4" width="3.9" height="3.9" fill="#86b835"/>
<rect x="827.2" y="347.4" width="3.9" height="3.9" fill="#82b62f"/>
<rect x="830.8" y="347.4" width="3.9" height="3.9" fill="#82b62f"/>
<rect x="834.4" y="347.4" width="3.9" height="3.9" fill="#82b533"/>
<rect x="838" y="347.4" width="3.9" height="3.9" fill="#81b433"/>
<rect x="841.6" y="347.4" width="3.9" height="3.9" fill="#7db22c"/>
<rect x="845.2" y="347.4" width="3.9" height="3.9" fill="#7bb127"/>
<rect x="848.8" y="347.4" width="3.9" height="3.9" fill="#7ab127"/>
<rect x="712" y="351" width="3.9" height="3.9" fill="#cc1212"/>
<rect x="715.6" y="351" width="3.9" height="3.9" fill="#cc1313"/>
<rect x="719.2" y="351" width="3.9" height="3.9" fill="#cf1819"/>
<rect x="722.8" y="351" width="3.9" height="3.9" fill="#d21c1a"/>
<rect x="726.4" y="351" width="3.9" height="3.9" fill="#d41d16"/>
<rect x="730" y="351" width="3.9" height="3.9" fill="#d41d15"/>
<rect x="733.6" y="351" width="3.9" height="3.9" fill="#d6231d"/>
<rect x="737.2" y="351" width="3.9" height="3.9" fill="#da3025"/>
<rect x="740.8" y="351" width="3.9" height="3.9" fill="#de3921"/>
<rect x="744.4" y="351" width="3.9" height="3.9" fill="#e03c1a"/>
<rect x="748" y="351" width="3.9" height="3.9" fill="#e03d1a"/>
<rect x="751.6" y="351" width="3.9" height="3.9" fill="#e14a23"/>
<rect x="755.2" y="351" width="3.9" height="3.9" fill="#e56b2f"/>
<rect x="758.8" y="351" width="3.9" height="3.9" fill="#eb812e"/>
<rect x="762.4" y="351" width="3.9" height="3.9" fill="#ee852a"/>
<rect x="766" y="351" width="3.9" height="3.9" fill="#ed892d"/>
<rect x="769.6" y="351" width="3.9" height="3.9" fill="#eda637"/>
<rect x="773.2" y="351" width="3.9" height="3.9" fill="#efbd39"/>
<rect x="776.8" y="351" width="3.9" height="3.9" fill="#edc33b"/>
<rect x="780.4" y="351" width="3.9" height="3.9" fill="#e8da41"/>
<rect x="784" y="351" width="3.9" height="3.9" fill="#e6dd41"/>
<rect x="787.6" y="351" width="3.9" height="3.9" fill="#d1d343"/>
<rect x="791.2" y="351" width="3.9" height="3.9" fill="#b8cc3b"/>
<rect x="794.8" y="351" width="3.9" height="3.9" fill="#b6cc3b"/>
<rect x="798.4" y="351" width="3.9" height="3.9" fill="#b6ca41"/>
<rect x="802" y="351" width="3.9" height="3.9" fill="#a5c33f"/>
<rect x="805.6" y="351" width="3.9" height="3.9" fill="#91bd31"/>
<rect x="809.2" y="351" width="3.9" height="3.9" fill="#8dbc2d"/>
<rect x="812.8" y="351" width="3.9" height="3.9" fill="#8fbd31"/>
<rect x="816.4" y="351" width="3.9" height="3.9" fill="#91bc39"/>
<rect x="820" y="351" width="3.9" height="3.9" fill="#89b935"/>
<rect x="823.6" y="351" width="3.9" height="3.9" fill="#80b52a"/>
<rect x="827.2" y="351" width="3.9" height="3.9" fill="#7db425"/>
<rect x="830.8" y="351" width="3.9" height="3.9" fill="#7db426"/>
<rect x="834.4" y="351" width="3.9" height="3.9" fill="#7fb42c"/>
<rect x="838" y="351" width="3.9" height="3.9" fill="#7eb32c"/>
<rect x="841.6" y="351" width="3.9" height="3.9" fill="#7ab125"/>
<rect x="845.2" y="351" width="3.9" height="3.9" fill="#78b021"/>
<rect x="848.8" y="351" width="3.9" height="3.9" fill="#78b021"/>
<rect x="712" y="354.6" width="3.9" height="3.9" fill="#cc1212"/>
<rect x="715.6" y="354.6" width="3.9" height="3.9" fill="#cc1313"/>
<rect x="719.2" y="354.6" width="3.9" height="3.9" fill="#cf1716"/>
<rect x="722.8" y="354.6" width="3.9" height="3.9" fill="#d31d17"/>
<rect x="726.4" y="354.6" width="3.9" height="3.9" fill="#d41c14"/>
<rect x="730" y="354.6" width="3.9" height="3.9" fill="#d41c14"/>
<rect x="733.6" y="354.6" width="3.9" height="3.9" fill="#d52118"/>
<rect x="737.2" y="354.6" width="3.9" height="3.9" fill="#d93020"/>
<rect x="740.8" y="354.6" width="3.9" height="3.9" fill="#de3b1d"/>
<rect x="744.4" y="354.6" width="3.9" height="3.9" fill="#e03c18"/>
<rect x="748" y="354.6" width="3.9" height="3.9" fill="#e03d19"/>
<rect x="751.6" y="354.6" width="3.9" height="3.9" fill="#e1481f"/>
<rect x="755.2" y="354.6" width="3.9" height="3.9" fill="#e66b2b"/>
<rect x="758.8" y="354.6" width="3.9" height="3.9" fill="#ec822b"/>
<rect x="762.4" y="354.6" width="3.9" height="3.9" fill="#ee8428"/>
<rect x="766" y="354.6" width="3.9" height="3.9" fill="#ee872a"/>
<rect x="769.6" y="354.6" width="3.9" height="3.9" fill="#eeac36"/>
<rect x="773.2" y="354.6" width="3.9" height="3.9" fill="#f0c038"/>
<rect x="776.8" y="354.6" width="3.9" height="3.9" fill="#eec33a"/>
<rect x="780.4" y="354.6" width="3.9" height="3.9" fill="#e8dd40"/>
<rect x="784" y="354.6" width="3.9" height="3.9" fill="#e7df40"/>
<rect x="787.6" y="354.6" width="3.9" height="3.9" fill="#d0d33f"/>
<rect x="791.2" y="354.6" width="3.9" height="3.9" fill="#b5cc39"/>
<rect x="794.8" y="354.6" width="3.9" height="3.9" fill="#b5cc39"/>
<rect x="798.4" y="354.6" width="3.9" height="3.9" fill="#b4ca3d"/>
<rect x="802" y="354.6" width="3.9" height="3.9" fill="#a1c23a"/>
<rect x="805.6" y="354.6" width="3.9" height="3.9" fill="#8fbd2f"/>
<rect x="809.2" y="354.6" width="3.9" height="3.9" fill="#8cbc2c"/>
<rect x="812.8" y="354.6" width="3.9" height="3.9" fill="#8ebc2f"/>
<rect x="816.4" y="354.6" width="3.9" height="3.9" fill="#8fbb35"/>
<rect x="820" y="354.6" width="3.9" height="3.9" fill="#87b831"/>
<rect x="823.6" y="354.6" width="3.9" height="3.9" fill="#7eb527"/>
<rect x="827.2" y="354.6" width="3.9" height="3.9" fill="#7cb424"/>
<rect x="830.8" y="354.6" width="3.9" height="3.9" fill="#7db425"/>
<rect x="834.4" y="354.6" width="3.9" height="3.9" fill="#7fb42a"/>
<rect x="838" y="354.6" width="3.9" height="3.9" fill="#7eb32a"/>
<rect x="841.6" y="354.6" width="3.9" height="3.9" fill="#79b123"/>
<rect x="845.2" y="354.6" width="3.9" height="3.9" fill="#78b020"/>
<rect x="848.8" y="354.6" width="3.9" height="3.9" fill="#78b020"/>
</g></g>
<text x="829.5" y="247.5" font-size="20.2" fill="#000" text-anchor="start" stroke="#000" stroke-width="0.22">111</text>
<text x="705.5" y="373.8" font-size="20.2" fill="#000" text-anchor="start" stroke="#000" stroke-width="0.22">001</text>
<text x="829.5" y="373.8" font-size="20.2" fill="#000" text-anchor="start" stroke="#000" stroke-width="0.22">101</text>
<text x="746.0" y="253" font-size="21.5" fill="#000" text-anchor="start" stroke="#000" stroke-width="0.22">ND</text>
<text x="696.5" y="304.6" font-size="21.5" fill="#000" text-anchor="start" stroke="#000" stroke-width="0.22">TD</text>
<path d="M762,262 V298.4 H734" stroke="#111" stroke-width="1.4" fill="none"/>
<path d="M762,253 L767.3,266 L762,263.2 L756.7,266 Z" fill="#111"/>
<path d="M723.9,298.4 L737,293.2 L734.2,298.4 L737,303.6 Z" fill="#111"/>
<text x="1106.6" y="349.6" font-size="21.5" fill="#000" text-anchor="start" stroke="#000" stroke-width="0.22">200 µm</text>
<path d="M1099.3,357 V364 H1170.3 V357" stroke="#222" stroke-width="1.3" fill="none"/>
<text x="882.2" y="405.6" font-size="21.5" fill="#000" text-anchor="start" stroke="#000" stroke-width="0.22">b</text>
<text x="902.6" y="404.6" font-size="20.2" letter-spacing="1.15" fill="#000" stroke="#000" stroke-width="0.22">退火孪晶形貌</text></g>
<g id="panel-c"><filter id="semnoise" x="0" y="0" width="100%" height="100%" filterUnits="objectBoundingBox" color-interpolation-filters="sRGB">
<feTurbulence type="fractalNoise" baseFrequency="0.2" numOctaves="2" seed="7"/>
<feColorMatrix type="matrix" values="1 0 0 0 0  1 0 0 0 0  1 0 0 0 0  0 0 0 0 1" result="hi"/>
<feTurbulence type="fractalNoise" baseFrequency="0.012" numOctaves="2" seed="3"/>
<feColorMatrix type="matrix" values="1 0 0 0 0  1 0 0 0 0  1 0 0 0 0  0 0 0 0 1" result="lo"/>
<feComposite in="hi" in2="lo" operator="arithmetic" k1="0" k2="1" k3="0.14" k4="-0.075"/>
<feComponentTransfer><feFuncR type="table" tableValues="0.26 0.28 0.3 0.34 0.4 0.47 0.59 0.77 0.92 1 1"/><feFuncG type="table" tableValues="0.25 0.27 0.29 0.33 0.39 0.46 0.58 0.76 0.92 1 1"/><feFuncB type="table" tableValues="0.26 0.28 0.3 0.34 0.4 0.47 0.59 0.77 0.92 1 1"/></feComponentTransfer>
<feGaussianBlur stdDeviation="0.5"/>
</filter>
<rect x="145" y="431" width="457" height="328.5" fill="#7a787a"/>
<rect x="145" y="431" width="457" height="328.5" fill="#7a787a" filter="url(#semnoise)"/>

<rect x="501" y="719" width="105" height="45" fill="#fff"/>
<text x="521.5" y="741.1" font-size="21.5" fill="#000" text-anchor="start" stroke="#000" stroke-width="0.22">200 nm</text>
<path d="M526.9,747 V753.4 H574.1 V747" stroke="#222" stroke-width="1.3" fill="none"/>
<text x="310" y="582.6" font-size="20.6" fill="#e2ee3e" stroke="#e2ee3e" stroke-width="0.4" textLength="81" lengthAdjust="spacingAndGlyphs"><tspan font-style="italic">γ</tspan>′ and <tspan font-style="italic">γ</tspan>″</text>
<text x="312.2" y="819.5" font-size="21.5" fill="#000" text-anchor="start" stroke="#000" stroke-width="0.22">c</text>
<text x="332.4" y="819.5" font-size="21.2" fill="#000" textLength="45" lengthAdjust="spacingAndGlyphs" stroke="#000" stroke-width="0.22"><tspan font-style="italic">γ</tspan>′+<tspan font-style="italic">γ</tspan>″</text>
<text x="381.1" y="818.9" font-size="20.2" letter-spacing="1.15" fill="#000" stroke="#000" stroke-width="0.22">的形貌</text></g>
<g id="panel-d"><rect x="738.7" y="431.5" width="440.4" height="307.1" fill="none" stroke="#222" stroke-width="1.4"/>
<text x="727.8" y="704.2" font-size="21.5" fill="#000" text-anchor="end" stroke="#000" stroke-width="0.22">200</text>
<text x="727.8" y="663.1" font-size="21.5" fill="#000" text-anchor="end" stroke="#000" stroke-width="0.22">400</text>
<text x="727.8" y="622.0" font-size="21.5" fill="#000" text-anchor="end" stroke="#000" stroke-width="0.22">600</text>
<text x="727.8" y="580.9" font-size="21.5" fill="#000" text-anchor="end" stroke="#000" stroke-width="0.22">800</text>
<text x="727.8" y="539.8" font-size="21.5" fill="#000" text-anchor="end" stroke="#000" stroke-width="0.22">1 000</text>
<text x="727.8" y="498.7" font-size="21.5" fill="#000" text-anchor="end" stroke="#000" stroke-width="0.22">1 200</text>
<text x="727.8" y="457.6" font-size="21.5" fill="#000" text-anchor="end" stroke="#000" stroke-width="0.22">1 400</text>
<text x="789.6" y="760.3" font-size="21.5" fill="#000" text-anchor="middle" stroke="#000" stroke-width="0.22">4</text>
<text x="841.8" y="760.3" font-size="21.5" fill="#000" text-anchor="middle" stroke="#000" stroke-width="0.22">8</text>
<text x="893.9" y="760.3" font-size="21.5" fill="#000" text-anchor="middle" stroke="#000" stroke-width="0.22">12</text>
<text x="946.1" y="760.3" font-size="21.5" fill="#000" text-anchor="middle" stroke="#000" stroke-width="0.22">16</text>
<text x="998.2" y="760.3" font-size="21.5" fill="#000" text-anchor="middle" stroke="#000" stroke-width="0.22">20</text>
<text x="1050.4" y="760.3" font-size="21.5" fill="#000" text-anchor="middle" stroke="#000" stroke-width="0.22">24</text>
<text x="1102.5" y="760.3" font-size="21.5" fill="#000" text-anchor="middle" stroke="#000" stroke-width="0.22">28</text>
<text x="1154.7" y="760.3" font-size="21.5" fill="#000" text-anchor="middle" stroke="#000" stroke-width="0.22">32</text>
<text x="727.8" y="760.3" font-size="21.5" fill="#000" text-anchor="end" stroke="#000" stroke-width="0.22">0</text>
<path d="M738.7,699.1 h7 M738.7,658.0 h7 M738.7,616.9 h7 M738.7,575.8 h7 M738.7,534.7 h7 M738.7,493.6 h7 M738.7,452.5 h7 M789.6,738.6 v-6.5 M841.8,738.6 v-6.5 M893.9,738.6 v-6.5 M946.1,738.6 v-6.5 M998.2,738.6 v-6.5 M1050.4,738.6 v-6.5 M1102.5,738.6 v-6.5 M1154.7,738.6 v-6.5" stroke="#222" stroke-width="1.3" fill="none"/>
<text transform="translate(669.6,637) rotate(-90)" font-size="21.2" fill="#000" stroke="#000" stroke-width="0.22">Stress/MPa</text>
<text x="919.2" y="787.6" font-size="21.5" fill="#000" text-anchor="start" stroke="#000" stroke-width="0.22">Strain/%</text>
<path d="M738.9,738.0 C739.1,730.0 739.8,705.8 740.2,690.0 C740.7,674.2 740.9,655.3 741.6,643.2 C742.3,631.1 743.3,623.6 744.4,617.6 C745.5,611.6 746.5,610.4 748.0,607.5 C749.5,604.6 750.8,602.6 753.5,600.2 C756.2,597.9 759.0,595.8 764.5,593.4 C770.0,591.0 776.8,588.6 786.5,585.6 C796.2,582.6 810.8,578.4 823.0,575.5 C835.2,572.6 844.7,570.9 860.0,568.0 C875.3,565.1 896.7,560.8 915.0,558.2 C933.3,555.6 951.7,553.8 970.0,552.2 C988.3,550.6 1009.6,549.5 1024.8,548.7 C1040.0,547.9 1050.9,547.6 1061.4,547.6 C1071.9,547.6 1080.5,548.0 1088.0,548.9 C1095.5,549.8 1100.4,551.0 1106.5,553.1 C1112.6,555.2 1120.6,559.1 1124.8,561.3 C1129.0,563.5 1130.5,565.5 1131.7,566.3" stroke="#333" stroke-width="1.4" fill="none"/>
<path d="M738.9,738.0 C739.2,724.7 739.9,682.5 740.5,658.0 C741.1,633.5 742.0,612.4 742.8,591.0 C743.6,569.6 744.4,544.0 745.3,529.8 C746.2,515.6 746.6,511.8 748.0,506.0 C749.4,500.2 750.8,498.1 753.5,495.0 C756.2,491.9 759.0,490.0 764.5,487.7 C770.0,485.4 776.8,483.6 786.5,481.3 C796.2,479.0 810.8,475.8 823.0,474.0 C835.2,472.2 846.2,471.3 860.0,470.3 C873.8,469.3 893.6,468.3 905.8,468.1 C918.0,467.9 926.0,468.4 933.0,469.0 C940.0,469.6 943.7,470.7 948.0,472.0 C952.3,473.3 956.7,475.6 959.0,476.8 C961.3,478.1 961.2,479.1 961.6,479.5" stroke="#d7232e" stroke-width="1.5" fill="none"/>
<path d="M738.9,738.0 C739.2,724.7 740.0,682.5 740.7,658.0 C741.5,633.5 742.6,610.7 743.4,591.0 C744.2,571.3 744.7,552.3 745.5,540.0 C746.3,527.7 746.7,522.4 748.0,517.0 C749.3,511.6 750.8,510.8 753.5,507.9 C756.2,505.0 759.0,502.4 764.5,499.6 C770.0,496.8 776.8,493.9 786.5,491.0 C796.2,488.1 810.8,484.6 823.0,482.2 C835.2,479.8 847.7,478.5 860.0,476.8 C872.3,475.1 884.4,473.4 896.6,472.2 C908.8,471.0 920.8,470.3 933.0,469.8 C945.2,469.3 954.7,469.1 970.0,469.0 C985.3,468.9 1013.3,468.9 1025.0,469.0 C1036.7,469.1 1036.6,469.4 1040.0,469.8 C1043.4,470.2 1044.2,470.8 1045.5,471.5 C1046.8,472.2 1047.2,473.6 1047.6,474.0" stroke="#3b56ae" stroke-width="1.5" fill="none"/>
<text x="1050.5" y="478.6" font-size="21.5" fill="#1c4792" text-anchor="start" stroke="#1c4792" stroke-width="0.22">NHT</text>
<text x="966.2" y="488" font-size="21.5" fill="#e00012" text-anchor="start" stroke="#e00012" stroke-width="0.22">HA</text>
<text x="1105.2" y="581.5" font-size="21.5" fill="#000" text-anchor="start" stroke="#000" stroke-width="0.22">As-built</text>
<circle cx="901.7" cy="459.4" r="4.6" fill="#be6fa6"/>
<path d="M973,444.4 L977.5,451.6 L968.5,451.6 Z" fill="#7b4a12"/>
<path d="M964,457.6 L968.5,464.8 L959.5,464.8 Z" fill="#a19a20"/>
<circle cx="971.3" cy="463.6" r="4.2" fill="#800a78"/>
<rect x="976.0" y="465.0" width="8" height="8" fill="#be6fa6"/>
<rect x="928.0" y="469.6" width="8" height="8" fill="#800a78"/>
<rect x="952.7" y="476.0" width="8" height="8" fill="#7b4a12"/>
<circle cx="1056.1" cy="606.6" r="5.2" fill="#be6fa6"/>
<text x="1069.5" y="612.0" font-size="21.2" fill="#000" stroke="#000" stroke-width="0.22">SLM-HSA<tspan font-size="12.5" dy="-6.4">[6]</tspan></text>
<rect x="1051.0" y="620.1" width="10.2" height="10.2" fill="#be6fa6"/>
<text x="1069.5" y="630.6" font-size="21.2" fill="#000" stroke="#000" stroke-width="0.22">SLM-HA<tspan font-size="12.5" dy="-6.4">[7]</tspan></text>
<path d="M1056.1,639.8 L1061.4,648.3 L1050.8,648.3 Z" fill="#7b4a12"/>
<text x="1069.5" y="649.2" font-size="21.2" fill="#000" stroke="#000" stroke-width="0.22">SLM-SA<tspan font-size="12.5" dy="-6.4">[23]</tspan></text>
<rect x="1051.0" y="657.2" width="10.2" height="10.2" fill="#7b4a12"/>
<text x="1069.5" y="667.7" font-size="21.2" fill="#000" stroke="#000" stroke-width="0.22">SLM-HA<tspan font-size="12.5" dy="-6.4">[24]</tspan></text>
<circle cx="1056.1" cy="680.9" r="5.2" fill="#800a78"/>
<text x="1069.5" y="686.3" font-size="21.2" fill="#000" stroke="#000" stroke-width="0.22">SLM-HA<tspan font-size="12.5" dy="-6.4">[25]</tspan></text>
<rect x="1051.0" y="694.4" width="10.2" height="10.2" fill="#800a78"/>
<text x="1069.5" y="704.9" font-size="21.2" fill="#000" stroke="#000" stroke-width="0.22">SLM-HA<tspan font-size="12.5" dy="-6.4">[26]</tspan></text>
<path d="M1056.1,714.1 L1061.4,722.6 L1050.8,722.6 Z" fill="#a19a20"/>
<text x="1069.5" y="723.5" font-size="21.2" fill="#000" stroke="#000" stroke-width="0.22">SLM-HA<tspan font-size="12.5" dy="-6.4">[27]</tspan></text>
<text x="851.2" y="818.4" font-size="21.5" fill="#000" text-anchor="start" stroke="#000" stroke-width="0.22">d</text>
<text x="875.6" y="818.9" font-size="20.2" letter-spacing="1.15" fill="#000" stroke="#000" stroke-width="0.22">良好的综合力学性能</text></g>
<g id="captions"><text x="421.4" y="855.2" font-size="20.4" fill="#000" stroke="#000" stroke-width="0.22">图</text>
<text x="450.4" y="856.2" font-size="22.5" fill="#000" stroke="#000" stroke-width="0.22">7</text>
<text x="489.2" y="855.2" font-size="20.4" fill="#000" letter-spacing="4.6" stroke="#000" stroke-width="0.22">新型热处理工艺提供优异的强塑性</text>
<text x="862.6" y="846.8" font-size="15.6" fill="#000" letter-spacing="0.6" stroke="#000" stroke-width="0.22">[71]</text>
<text x="654.9" y="887.9" font-size="22.5" fill="#000" text-anchor="middle" letter-spacing="1.125" stroke="#000" stroke-width="0.22">Fig.7 Excellent strength and plasticity provided by novel heat treatment<tspan font-size="14.8" dy="-8.7">[71]</tspan><tspan dy="8.7">: a) solution + one time aging treatment process route;</tspan></text>
<text x="654.9" y="914.9" font-size="22.5" fill="#000" text-anchor="middle" letter-spacing="1.125" stroke="#000" stroke-width="0.22">b) morphology of annealing twins; c) morphology of γ''+γ' phase; d) excellent comprehensive mechanical properties</text></g>
</svg>
</body>
</html>
